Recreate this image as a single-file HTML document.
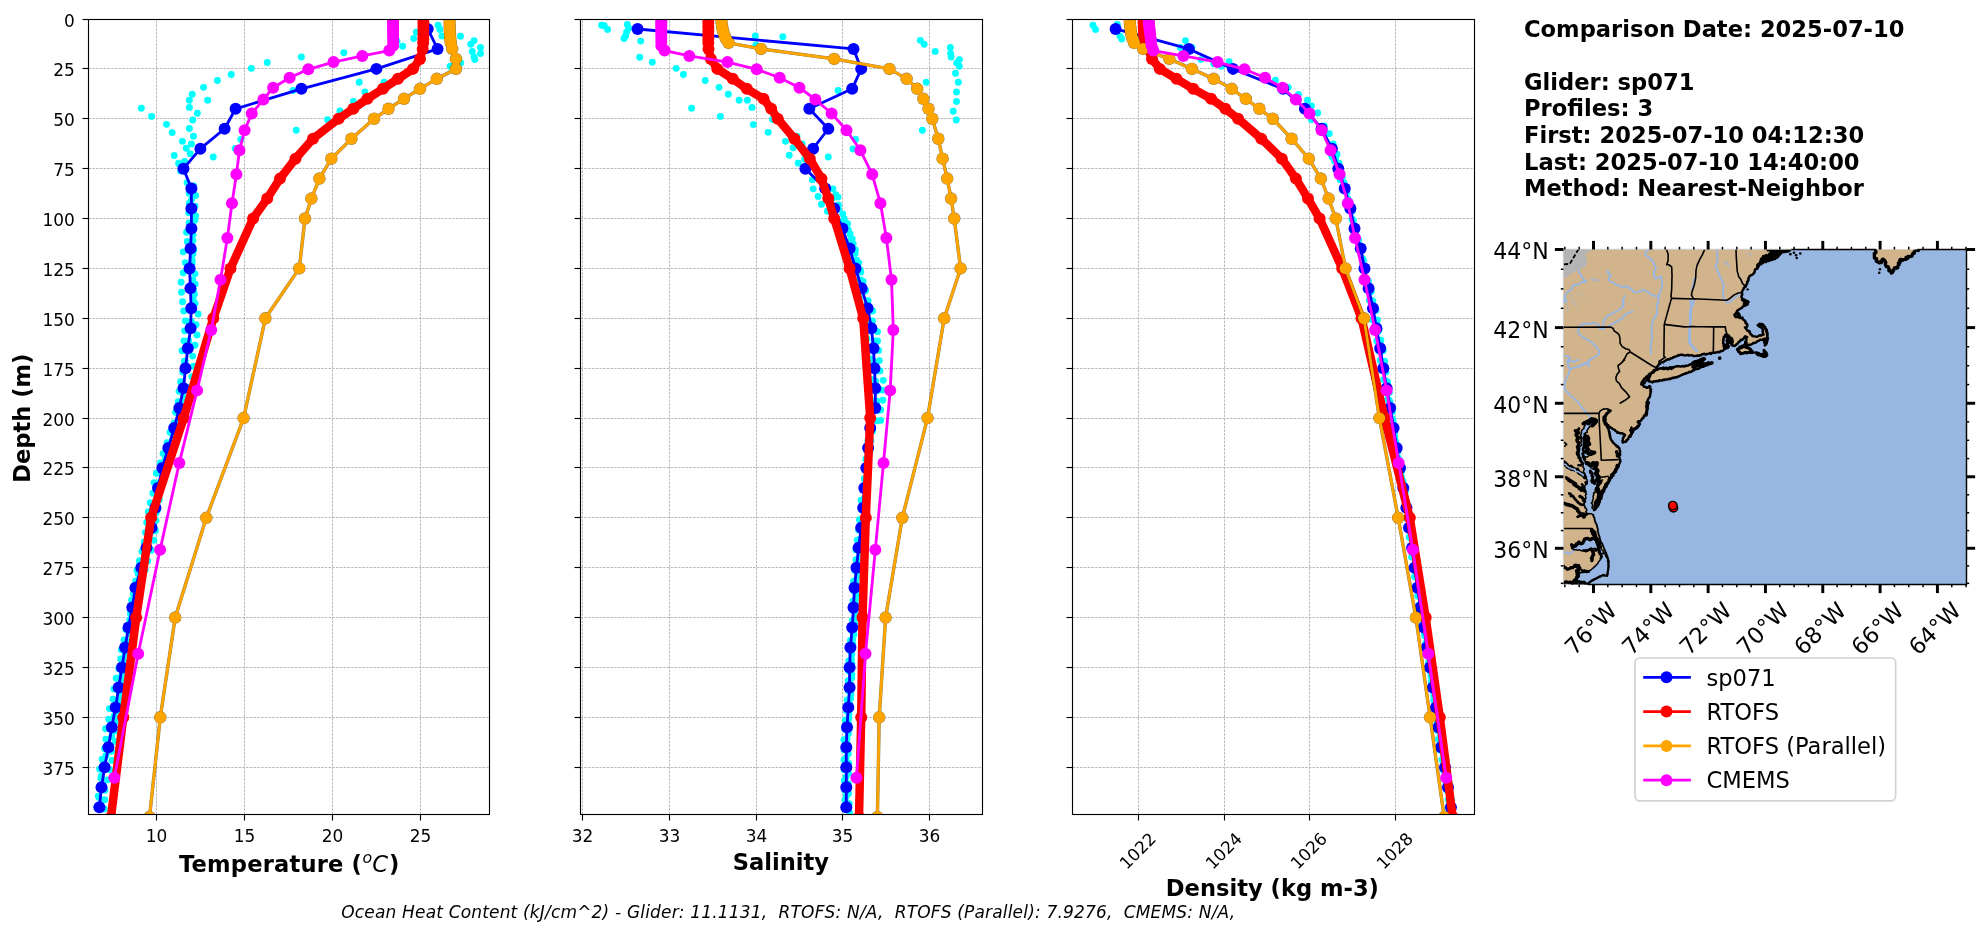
<!DOCTYPE html>
<html lang="en"><head><meta charset="utf-8"><title>Glider / model profile comparison</title>
<style>html,body{margin:0;padding:0;background:#fff}body{width:1980px;height:934px;overflow:hidden}svg{display:block;will-change:transform}text{font-family:'DejaVu Sans','Liberation Sans',sans-serif}</style></head><body>
<svg width="1980" height="934" viewBox="0 0 1980 934">
<rect width="1980" height="934" fill="#fff"/>
<g id="panel0">
<g stroke="#a9a9a9" stroke-width="0.8" stroke-dasharray="2.62 1.13" fill="none">
<line x1="156.5" y1="814.5" x2="156.5" y2="19.5"/>
<line x1="244.5" y1="814.5" x2="244.5" y2="19.5"/>
<line x1="332.5" y1="814.5" x2="332.5" y2="19.5"/>
<line x1="420.5" y1="814.5" x2="420.5" y2="19.5"/>
<line x1="88.5" y1="19.5" x2="489.5" y2="19.5"/>
<line x1="88.5" y1="68.5" x2="489.5" y2="68.5"/>
<line x1="88.5" y1="118.5" x2="489.5" y2="118.5"/>
<line x1="88.5" y1="168.5" x2="489.5" y2="168.5"/>
<line x1="88.5" y1="218.5" x2="489.5" y2="218.5"/>
<line x1="88.5" y1="268.5" x2="489.5" y2="268.5"/>
<line x1="88.5" y1="318.5" x2="489.5" y2="318.5"/>
<line x1="88.5" y1="368.5" x2="489.5" y2="368.5"/>
<line x1="88.5" y1="418.5" x2="489.5" y2="418.5"/>
<line x1="88.5" y1="467.5" x2="489.5" y2="467.5"/>
<line x1="88.5" y1="517.5" x2="489.5" y2="517.5"/>
<line x1="88.5" y1="567.5" x2="489.5" y2="567.5"/>
<line x1="88.5" y1="617.5" x2="489.5" y2="617.5"/>
<line x1="88.5" y1="667.5" x2="489.5" y2="667.5"/>
<line x1="88.5" y1="717.5" x2="489.5" y2="717.5"/>
<line x1="88.5" y1="767.5" x2="489.5" y2="767.5"/>
</g>
<clipPath id="clip0"><rect x="88.5" y="19.5" width="401" height="795"/></clipPath>
<g clip-path="url(#clip0)">
<g fill="#00ffff">
<circle cx="438.11" cy="25.18" r="3.45"/>
<circle cx="439.91" cy="29.55" r="3.45"/>
<circle cx="441.97" cy="35.97" r="3.45"/>
<circle cx="460.47" cy="36.23" r="3.45"/>
<circle cx="474.09" cy="40.6" r="3.45"/>
<circle cx="470.75" cy="44.2" r="3.45"/>
<circle cx="480.51" cy="47.54" r="3.45"/>
<circle cx="472.29" cy="51.39" r="3.45"/>
<circle cx="480.51" cy="53.45" r="3.45"/>
<circle cx="474.09" cy="57.04" r="3.45"/>
<circle cx="474.86" cy="59.61" r="3.45"/>
<circle cx="460.72" cy="62.95" r="3.45"/>
<circle cx="450.19" cy="66.29" r="3.45"/>
<circle cx="416.27" cy="32.12" r="3.45"/>
<circle cx="413.7" cy="38.54" r="3.45"/>
<circle cx="397" cy="41.11" r="3.45"/>
<circle cx="402.65" cy="46.25" r="3.45"/>
<circle cx="343.81" cy="52.68" r="3.45"/>
<circle cx="301.41" cy="57.04" r="3.45"/>
<circle cx="267.24" cy="62.44" r="3.45"/>
<circle cx="251.3" cy="68.35" r="3.45"/>
<circle cx="231.26" cy="74.52" r="3.45"/>
<circle cx="217.39" cy="80.43" r="3.45"/>
<circle cx="203.51" cy="87.37" r="3.45"/>
<circle cx="192.2" cy="94.3" r="3.45"/>
<circle cx="189.38" cy="100.21" r="3.45"/>
<circle cx="189.38" cy="107.41" r="3.45"/>
<circle cx="197.34" cy="113.32" r="3.45"/>
<circle cx="192.72" cy="120" r="3.45"/>
<circle cx="189.38" cy="128.48" r="3.45"/>
<circle cx="193.49" cy="136.19" r="3.45"/>
<circle cx="191.43" cy="143.9" r="3.45"/>
<circle cx="186.29" cy="148.26" r="3.45"/>
<circle cx="190.15" cy="153.66" r="3.45"/>
<circle cx="184.5" cy="161.37" r="3.45"/>
<circle cx="179.87" cy="164.45" r="3.45"/>
<circle cx="207.62" cy="100.21" r="3.45"/>
<circle cx="141.33" cy="108.18" r="3.45"/>
<circle cx="151.6" cy="116.4" r="3.45"/>
<circle cx="166.51" cy="124.37" r="3.45"/>
<circle cx="172.16" cy="132.59" r="3.45"/>
<circle cx="182.44" cy="141.33" r="3.45"/>
<circle cx="174.22" cy="155.46" r="3.45"/>
<circle cx="178.59" cy="163.17" r="3.45"/>
<circle cx="180.64" cy="170.88" r="3.45"/>
<circle cx="359.23" cy="82.23" r="3.45"/>
<circle cx="384.15" cy="82.23" r="3.45"/>
<circle cx="364.88" cy="91.99" r="3.45"/>
<circle cx="353.32" cy="101.5" r="3.45"/>
<circle cx="339.95" cy="111.01" r="3.45"/>
<circle cx="327.62" cy="119.74" r="3.45"/>
<circle cx="296.27" cy="130.28" r="3.45"/>
<circle cx="292.93" cy="90.45" r="3.45"/>
<circle cx="240.77" cy="139.53" r="3.45"/>
<circle cx="235.12" cy="148.52" r="3.45"/>
<circle cx="213.27" cy="157" r="3.45"/>
<circle cx="187.1" cy="182.61" r="3.45"/>
<circle cx="189.16" cy="193.27" r="3.45"/>
<circle cx="189.38" cy="203.26" r="3.45"/>
<circle cx="188.71" cy="212.73" r="3.45"/>
<circle cx="189.12" cy="222.91" r="3.45"/>
<circle cx="186.53" cy="232.24" r="3.45"/>
<circle cx="187.25" cy="241.57" r="3.45"/>
<circle cx="183.23" cy="251.85" r="3.45"/>
<circle cx="185.25" cy="262.6" r="3.45"/>
<circle cx="183.28" cy="272.82" r="3.45"/>
<circle cx="181.12" cy="282.25" r="3.45"/>
<circle cx="181.48" cy="292.27" r="3.45"/>
<circle cx="182.55" cy="301.75" r="3.45"/>
<circle cx="183.76" cy="310.98" r="3.45"/>
<circle cx="185.27" cy="320.86" r="3.45"/>
<circle cx="184.57" cy="330.87" r="3.45"/>
<circle cx="183.99" cy="340.84" r="3.45"/>
<circle cx="182.06" cy="350.75" r="3.45"/>
<circle cx="184.23" cy="361.52" r="3.45"/>
<circle cx="182.76" cy="372.04" r="3.45"/>
<circle cx="180.59" cy="381.72" r="3.45"/>
<circle cx="179.04" cy="391.36" r="3.45"/>
<circle cx="178.17" cy="401.77" r="3.45"/>
<circle cx="175.6" cy="412.3" r="3.45"/>
<circle cx="174.14" cy="423" r="3.45"/>
<circle cx="170.08" cy="432.18" r="3.45"/>
<circle cx="167.08" cy="442.81" r="3.45"/>
<circle cx="163.14" cy="453.56" r="3.45"/>
<circle cx="160.46" cy="462.85" r="3.45"/>
<circle cx="156.34" cy="473.27" r="3.45"/>
<circle cx="154.03" cy="482.59" r="3.45"/>
<circle cx="152.89" cy="493.31" r="3.45"/>
<circle cx="150.22" cy="502.67" r="3.45"/>
<circle cx="148.26" cy="512.01" r="3.45"/>
<circle cx="146.71" cy="522.47" r="3.45"/>
<circle cx="145.45" cy="532.54" r="3.45"/>
<circle cx="144.14" cy="542.02" r="3.45"/>
<circle cx="141.97" cy="551.41" r="3.45"/>
<circle cx="139.48" cy="560.77" r="3.45"/>
<circle cx="137.05" cy="570.29" r="3.45"/>
<circle cx="135.77" cy="581.02" r="3.45"/>
<circle cx="133.95" cy="590.68" r="3.45"/>
<circle cx="131.53" cy="600.2" r="3.45"/>
<circle cx="130.58" cy="610.74" r="3.45"/>
<circle cx="129.67" cy="620.08" r="3.45"/>
<circle cx="125.91" cy="629.6" r="3.45"/>
<circle cx="124" cy="640.01" r="3.45"/>
<circle cx="121.33" cy="649.66" r="3.45"/>
<circle cx="120.7" cy="658.98" r="3.45"/>
<circle cx="118.72" cy="668.55" r="3.45"/>
<circle cx="116.19" cy="678.32" r="3.45"/>
<circle cx="113.98" cy="689.03" r="3.45"/>
<circle cx="112.97" cy="699.12" r="3.45"/>
<circle cx="109.39" cy="708.59" r="3.45"/>
<circle cx="108.9" cy="719.22" r="3.45"/>
<circle cx="105.56" cy="728.8" r="3.45"/>
<circle cx="105.89" cy="739.16" r="3.45"/>
<circle cx="104.58" cy="748.65" r="3.45"/>
<circle cx="102.17" cy="759.24" r="3.45"/>
<circle cx="99.62" cy="769.09" r="3.45"/>
<circle cx="100.86" cy="778.33" r="3.45"/>
<circle cx="99.28" cy="787.89" r="3.45"/>
<circle cx="99.03" cy="797.48" r="3.45"/>
<circle cx="97.06" cy="807.61" r="3.45"/>
<circle cx="193.56" cy="186.01" r="3.45"/>
<circle cx="195.61" cy="195.55" r="3.45"/>
<circle cx="195.05" cy="206.09" r="3.45"/>
<circle cx="195.59" cy="215.71" r="3.45"/>
<circle cx="191.96" cy="225.22" r="3.45"/>
<circle cx="193.07" cy="234.83" r="3.45"/>
<circle cx="191.75" cy="244.1" r="3.45"/>
<circle cx="192.96" cy="253.87" r="3.45"/>
<circle cx="192.15" cy="263.26" r="3.45"/>
<circle cx="194.99" cy="273.86" r="3.45"/>
<circle cx="195.11" cy="284.08" r="3.45"/>
<circle cx="194.33" cy="294.2" r="3.45"/>
<circle cx="194.98" cy="303.43" r="3.45"/>
<circle cx="198.2" cy="314.06" r="3.45"/>
<circle cx="196.01" cy="324.78" r="3.45"/>
<circle cx="196.98" cy="334.97" r="3.45"/>
<circle cx="195.06" cy="345.31" r="3.45"/>
<circle cx="192.72" cy="356.09" r="3.45"/>
<circle cx="193.58" cy="366.14" r="3.45"/>
<circle cx="191.9" cy="376.75" r="3.45"/>
<circle cx="190.35" cy="387.06" r="3.45"/>
<circle cx="185.81" cy="397.69" r="3.45"/>
<circle cx="184.81" cy="407.97" r="3.45"/>
<circle cx="179.62" cy="418.54" r="3.45"/>
<circle cx="176.72" cy="428.98" r="3.45"/>
<circle cx="172.85" cy="439.07" r="3.45"/>
<circle cx="169.73" cy="448.86" r="3.45"/>
<circle cx="165.5" cy="459.01" r="3.45"/>
<circle cx="165.08" cy="469.21" r="3.45"/>
<circle cx="162.45" cy="479.79" r="3.45"/>
<circle cx="160.91" cy="489.59" r="3.45"/>
<circle cx="159.38" cy="499.69" r="3.45"/>
<circle cx="157.55" cy="510.21" r="3.45"/>
<circle cx="155.99" cy="520.59" r="3.45"/>
<circle cx="155.47" cy="530.72" r="3.45"/>
<circle cx="153.9" cy="540.27" r="3.45"/>
<circle cx="151.34" cy="550.24" r="3.45"/>
<circle cx="147.71" cy="560.89" r="3.45"/>
<circle cx="145.23" cy="570.09" r="3.45"/>
<circle cx="141.67" cy="580.35" r="3.45"/>
<circle cx="140.58" cy="589.8" r="3.45"/>
<circle cx="137.32" cy="600.03" r="3.45"/>
<circle cx="134.7" cy="610.63" r="3.45"/>
<circle cx="131.86" cy="620.87" r="3.45"/>
<circle cx="131.08" cy="630.74" r="3.45"/>
<circle cx="129.01" cy="641.37" r="3.45"/>
<circle cx="126.36" cy="651.17" r="3.45"/>
<circle cx="123.59" cy="660.85" r="3.45"/>
<circle cx="123.8" cy="670.82" r="3.45"/>
<circle cx="121.93" cy="681.35" r="3.45"/>
<circle cx="119.47" cy="692.05" r="3.45"/>
<circle cx="118.86" cy="701.5" r="3.45"/>
<circle cx="117.14" cy="711.11" r="3.45"/>
<circle cx="116.85" cy="720.95" r="3.45"/>
<circle cx="114.78" cy="730.92" r="3.45"/>
<circle cx="115.17" cy="741.44" r="3.45"/>
<circle cx="111.49" cy="751.34" r="3.45"/>
<circle cx="111.97" cy="760.57" r="3.45"/>
<circle cx="109.97" cy="769.81" r="3.45"/>
<circle cx="107.34" cy="779.9" r="3.45"/>
<circle cx="104.92" cy="790.34" r="3.45"/>
<circle cx="104.69" cy="799.74" r="3.45"/>
<circle cx="104.43" cy="808.96" r="3.45"/>
<circle cx="189.38" cy="189.4" r="3.45"/>
<circle cx="191.61" cy="199.58" r="3.45"/>
<circle cx="193.16" cy="209.77" r="3.45"/>
<circle cx="195.02" cy="220.23" r="3.45"/>
<circle cx="192.84" cy="230.5" r="3.45"/>
<circle cx="192.81" cy="240.44" r="3.45"/>
<circle cx="193.7" cy="249.64" r="3.45"/>
<circle cx="192.14" cy="259.95" r="3.45"/>
<circle cx="192.16" cy="269.57" r="3.45"/>
<circle cx="192.76" cy="279.86" r="3.45"/>
<circle cx="193.4" cy="290.02" r="3.45"/>
<circle cx="193.21" cy="299.82" r="3.45"/>
<circle cx="190.11" cy="310.45" r="3.45"/>
<circle cx="191.25" cy="321.12" r="3.45"/>
<circle cx="189.1" cy="330.5" r="3.45"/>
<circle cx="188.75" cy="340.68" r="3.45"/>
<circle cx="185.84" cy="350.46" r="3.45"/>
<circle cx="185.29" cy="361.04" r="3.45"/>
<circle cx="183.02" cy="371.73" r="3.45"/>
<circle cx="181.41" cy="381.94" r="3.45"/>
<circle cx="182.68" cy="392.28" r="3.45"/>
<circle cx="180.87" cy="402.48" r="3.45"/>
<circle cx="180.08" cy="412" r="3.45"/>
<circle cx="178.46" cy="422.74" r="3.45"/>
<circle cx="174.89" cy="432.78" r="3.45"/>
<circle cx="172.75" cy="442.47" r="3.45"/>
<circle cx="168.55" cy="453.01" r="3.45"/>
<circle cx="166.19" cy="462.32" r="3.45"/>
<circle cx="164.4" cy="472.38" r="3.45"/>
<circle cx="160.19" cy="482.33" r="3.45"/>
<circle cx="158.11" cy="492.8" r="3.45"/>
<circle cx="156.58" cy="503.26" r="3.45"/>
<circle cx="156.06" cy="512.97" r="3.45"/>
<circle cx="152.14" cy="522.37" r="3.45"/>
<circle cx="150.83" cy="532.38" r="3.45"/>
<circle cx="147.54" cy="542.9" r="3.45"/>
<circle cx="143.86" cy="553.58" r="3.45"/>
<circle cx="139.78" cy="564.28" r="3.45"/>
<circle cx="138.09" cy="573.81" r="3.45"/>
<circle cx="135.81" cy="583.45" r="3.45"/>
<circle cx="133.33" cy="593.65" r="3.45"/>
<circle cx="132.17" cy="604.17" r="3.45"/>
<circle cx="130.45" cy="613.85" r="3.45"/>
<circle cx="130.31" cy="624.38" r="3.45"/>
<circle cx="129.03" cy="633.89" r="3.45"/>
<circle cx="126.95" cy="644.61" r="3.45"/>
<circle cx="124.97" cy="654.71" r="3.45"/>
<circle cx="124.51" cy="664.74" r="3.45"/>
<circle cx="121.86" cy="674.88" r="3.45"/>
<circle cx="121.34" cy="685.61" r="3.45"/>
<circle cx="120.37" cy="695.43" r="3.45"/>
<circle cx="117.73" cy="705.51" r="3.45"/>
<circle cx="114.34" cy="715.79" r="3.45"/>
<circle cx="112.79" cy="725.82" r="3.45"/>
<circle cx="111.63" cy="736.53" r="3.45"/>
<circle cx="108.33" cy="746.14" r="3.45"/>
<circle cx="106.01" cy="755.52" r="3.45"/>
<circle cx="104.77" cy="766" r="3.45"/>
<circle cx="101.44" cy="775.94" r="3.45"/>
<circle cx="100.61" cy="785.42" r="3.45"/>
<circle cx="98.21" cy="796.08" r="3.45"/>
<circle cx="97.06" cy="806.5" r="3.45"/>
</g>
<polyline points="427.7,28.98 437.6,48.93 376.4,68.88 301.4,88.84 235.6,108.79 224.6,128.74 200.4,148.69 183.5,168.65 191.4,188.6 191.4,208.55 191.4,228.51 190.6,248.46 189.6,268.41 190.4,288.37 191.2,308.32 190.6,328.27 187.8,348.22 185.5,368.18 183.5,388.13 179.3,408.08 174.2,428.04 168.3,447.99 162.4,467.94 158,487.9 155.4,507.85 151.6,527.8 146.5,547.75 141.3,567.71 135.4,587.66 132.3,607.61 128.5,627.57 125.1,647.52 122,667.47 118.7,687.43 115.6,707.38 111.8,727.33 108.4,747.28 104.6,767.24 101.5,787.19 99.4,807.14" fill="none" stroke="#0000ff" stroke-width="2.83" stroke-linejoin="round"/>
<g fill="#0000ff">
<circle cx="427.7" cy="28.98" r="6"/>
<circle cx="437.6" cy="48.93" r="6"/>
<circle cx="376.4" cy="68.88" r="6"/>
<circle cx="301.4" cy="88.84" r="6"/>
<circle cx="235.6" cy="108.79" r="6"/>
<circle cx="224.6" cy="128.74" r="6"/>
<circle cx="200.4" cy="148.69" r="6"/>
<circle cx="183.5" cy="168.65" r="6"/>
<circle cx="191.4" cy="188.6" r="6"/>
<circle cx="191.4" cy="208.55" r="6"/>
<circle cx="191.4" cy="228.51" r="6"/>
<circle cx="190.6" cy="248.46" r="6"/>
<circle cx="189.6" cy="268.41" r="6"/>
<circle cx="190.4" cy="288.37" r="6"/>
<circle cx="191.2" cy="308.32" r="6"/>
<circle cx="190.6" cy="328.27" r="6"/>
<circle cx="187.8" cy="348.22" r="6"/>
<circle cx="185.5" cy="368.18" r="6"/>
<circle cx="183.5" cy="388.13" r="6"/>
<circle cx="179.3" cy="408.08" r="6"/>
<circle cx="174.2" cy="428.04" r="6"/>
<circle cx="168.3" cy="447.99" r="6"/>
<circle cx="162.4" cy="467.94" r="6"/>
<circle cx="158" cy="487.9" r="6"/>
<circle cx="155.4" cy="507.85" r="6"/>
<circle cx="151.6" cy="527.8" r="6"/>
<circle cx="146.5" cy="547.75" r="6"/>
<circle cx="141.3" cy="567.71" r="6"/>
<circle cx="135.4" cy="587.66" r="6"/>
<circle cx="132.3" cy="607.61" r="6"/>
<circle cx="128.5" cy="627.57" r="6"/>
<circle cx="125.1" cy="647.52" r="6"/>
<circle cx="122" cy="667.47" r="6"/>
<circle cx="118.7" cy="687.43" r="6"/>
<circle cx="115.6" cy="707.38" r="6"/>
<circle cx="111.8" cy="727.33" r="6"/>
<circle cx="108.4" cy="747.28" r="6"/>
<circle cx="104.6" cy="767.24" r="6"/>
<circle cx="101.5" cy="787.19" r="6"/>
<circle cx="99.4" cy="807.14" r="6"/>
</g>
<polyline points="423.4,19 423.4,22.99 423.4,26.98 423.4,30.97 423.4,34.96 423.3,38.95 423.2,42.94 422.7,48.93 420,58.91 413,68.88 398,78.86 383,88.84 367.4,98.81 353.3,108.79 338.6,118.77 313,138.72 295.5,158.67 280,178.62 267.2,198.58 253.1,218.53 230.5,268.41 213.3,318.3 183.7,418.06 151.1,517.83 136.2,617.59 123.3,717.36 111,817.12" fill="none" stroke="#ff0000" stroke-width="8.48" stroke-linejoin="round"/>
<g fill="#ff0000">
<circle cx="423.4" cy="19" r="6"/>
<circle cx="423.4" cy="22.99" r="6"/>
<circle cx="423.4" cy="26.98" r="6"/>
<circle cx="423.4" cy="30.97" r="6"/>
<circle cx="423.4" cy="34.96" r="6"/>
<circle cx="423.3" cy="38.95" r="6"/>
<circle cx="423.2" cy="42.94" r="6"/>
<circle cx="422.7" cy="48.93" r="6"/>
<circle cx="420" cy="58.91" r="6"/>
<circle cx="413" cy="68.88" r="6"/>
<circle cx="398" cy="78.86" r="6"/>
<circle cx="383" cy="88.84" r="6"/>
<circle cx="367.4" cy="98.81" r="6"/>
<circle cx="353.3" cy="108.79" r="6"/>
<circle cx="338.6" cy="118.77" r="6"/>
<circle cx="313" cy="138.72" r="6"/>
<circle cx="295.5" cy="158.67" r="6"/>
<circle cx="280" cy="178.62" r="6"/>
<circle cx="267.2" cy="198.58" r="6"/>
<circle cx="253.1" cy="218.53" r="6"/>
<circle cx="230.5" cy="268.41" r="6"/>
<circle cx="213.3" cy="318.3" r="6"/>
<circle cx="183.7" cy="418.06" r="6"/>
<circle cx="151.1" cy="517.83" r="6"/>
<circle cx="136.2" cy="617.59" r="6"/>
<circle cx="123.3" cy="717.36" r="6"/>
<circle cx="111" cy="817.12" r="6"/>
</g>
<polyline points="449.6,19 449.6,22.99 449.7,26.98 449.8,30.97 450,34.96 450.3,38.95 450.8,42.94 452.2,48.93 456,58.91 456,68.88 436.8,78.86 420,88.84 404,98.81 388.5,108.79 374.1,118.77 351.5,138.72 331.4,158.67 319.4,178.62 311.4,198.58 305,218.53 299.3,268.41 265.4,318.3 243.6,418.06 206.3,517.83 175.2,617.59 160.3,717.36 149.5,817.12" fill="none" stroke="#4a3600" stroke-width="3.42" stroke-linejoin="round" stroke-opacity="0.65"/>
<g fill="#4a3600" fill-opacity="0.65">
<circle cx="449.6" cy="19" r="6.25"/>
<circle cx="449.6" cy="22.99" r="6.25"/>
<circle cx="449.7" cy="26.98" r="6.25"/>
<circle cx="449.8" cy="30.97" r="6.25"/>
<circle cx="450" cy="34.96" r="6.25"/>
<circle cx="450.3" cy="38.95" r="6.25"/>
<circle cx="450.8" cy="42.94" r="6.25"/>
<circle cx="452.2" cy="48.93" r="6.25"/>
<circle cx="456" cy="58.91" r="6.25"/>
<circle cx="456" cy="68.88" r="6.25"/>
<circle cx="436.8" cy="78.86" r="6.25"/>
<circle cx="420" cy="88.84" r="6.25"/>
<circle cx="404" cy="98.81" r="6.25"/>
<circle cx="388.5" cy="108.79" r="6.25"/>
<circle cx="374.1" cy="118.77" r="6.25"/>
<circle cx="351.5" cy="138.72" r="6.25"/>
<circle cx="331.4" cy="158.67" r="6.25"/>
<circle cx="319.4" cy="178.62" r="6.25"/>
<circle cx="311.4" cy="198.58" r="6.25"/>
<circle cx="305" cy="218.53" r="6.25"/>
<circle cx="299.3" cy="268.41" r="6.25"/>
<circle cx="265.4" cy="318.3" r="6.25"/>
<circle cx="243.6" cy="418.06" r="6.25"/>
<circle cx="206.3" cy="517.83" r="6.25"/>
<circle cx="175.2" cy="617.59" r="6.25"/>
<circle cx="160.3" cy="717.36" r="6.25"/>
<circle cx="149.5" cy="817.12" r="6.25"/>
</g>
<polyline points="449.6,19 449.6,22.99 449.7,26.98 449.8,30.97 450,34.96 450.3,38.95 450.8,42.94 452.2,48.93 456,58.91 456,68.88 436.8,78.86 420,88.84 404,98.81 388.5,108.79 374.1,118.77 351.5,138.72 331.4,158.67 319.4,178.62 311.4,198.58 305,218.53 299.3,268.41 265.4,318.3 243.6,418.06 206.3,517.83 175.2,617.59 160.3,717.36 149.5,817.12" fill="none" stroke="#ffa500" stroke-width="2.73" stroke-linejoin="round"/>
<g fill="#ffa500">
<circle cx="449.6" cy="19" r="5.9"/>
<circle cx="449.6" cy="22.99" r="5.9"/>
<circle cx="449.7" cy="26.98" r="5.9"/>
<circle cx="449.8" cy="30.97" r="5.9"/>
<circle cx="450" cy="34.96" r="5.9"/>
<circle cx="450.3" cy="38.95" r="5.9"/>
<circle cx="450.8" cy="42.94" r="5.9"/>
<circle cx="452.2" cy="48.93" r="5.9"/>
<circle cx="456" cy="58.91" r="5.9"/>
<circle cx="456" cy="68.88" r="5.9"/>
<circle cx="436.8" cy="78.86" r="5.9"/>
<circle cx="420" cy="88.84" r="5.9"/>
<circle cx="404" cy="98.81" r="5.9"/>
<circle cx="388.5" cy="108.79" r="5.9"/>
<circle cx="374.1" cy="118.77" r="5.9"/>
<circle cx="351.5" cy="138.72" r="5.9"/>
<circle cx="331.4" cy="158.67" r="5.9"/>
<circle cx="319.4" cy="178.62" r="5.9"/>
<circle cx="311.4" cy="198.58" r="5.9"/>
<circle cx="305" cy="218.53" r="5.9"/>
<circle cx="299.3" cy="268.41" r="5.9"/>
<circle cx="265.4" cy="318.3" r="5.9"/>
<circle cx="243.6" cy="418.06" r="5.9"/>
<circle cx="206.3" cy="517.83" r="5.9"/>
<circle cx="175.2" cy="617.59" r="5.9"/>
<circle cx="160.3" cy="717.36" r="5.9"/>
<circle cx="149.5" cy="817.12" r="5.9"/>
</g>
<polyline points="393.1,19.99 393.1,22.07 393.1,24.28 393.1,26.62 393.1,29.13 393.1,31.85 393.1,34.82 393.1,38.1 393.1,41.76 393.1,45.87 389.3,50.55 362.3,55.91 333.5,62.1 308.3,69.3 289.6,77.75 273.1,87.71 263.4,99.5 251.8,113.53 244.6,130.27 239.5,150.3 236.4,174.34 232,203.22 227.4,237.94 220.5,279.72 211.2,329.97 197.1,390.38 179.3,462.9 160.1,549.83 138.2,653.76 114.3,777.64" fill="none" stroke="#ff00ff" stroke-width="2.83" stroke-linejoin="round"/>
<g fill="#ff00ff">
<circle cx="393.1" cy="19.99" r="6"/>
<circle cx="393.1" cy="22.07" r="6"/>
<circle cx="393.1" cy="24.28" r="6"/>
<circle cx="393.1" cy="26.62" r="6"/>
<circle cx="393.1" cy="29.13" r="6"/>
<circle cx="393.1" cy="31.85" r="6"/>
<circle cx="393.1" cy="34.82" r="6"/>
<circle cx="393.1" cy="38.1" r="6"/>
<circle cx="393.1" cy="41.76" r="6"/>
<circle cx="393.1" cy="45.87" r="6"/>
<circle cx="389.3" cy="50.55" r="6"/>
<circle cx="362.3" cy="55.91" r="6"/>
<circle cx="333.5" cy="62.1" r="6"/>
<circle cx="308.3" cy="69.3" r="6"/>
<circle cx="289.6" cy="77.75" r="6"/>
<circle cx="273.1" cy="87.71" r="6"/>
<circle cx="263.4" cy="99.5" r="6"/>
<circle cx="251.8" cy="113.53" r="6"/>
<circle cx="244.6" cy="130.27" r="6"/>
<circle cx="239.5" cy="150.3" r="6"/>
<circle cx="236.4" cy="174.34" r="6"/>
<circle cx="232" cy="203.22" r="6"/>
<circle cx="227.4" cy="237.94" r="6"/>
<circle cx="220.5" cy="279.72" r="6"/>
<circle cx="211.2" cy="329.97" r="6"/>
<circle cx="197.1" cy="390.38" r="6"/>
<circle cx="179.3" cy="462.9" r="6"/>
<circle cx="160.1" cy="549.83" r="6"/>
<circle cx="138.2" cy="653.76" r="6"/>
<circle cx="114.3" cy="777.64" r="6"/>
</g>
</g>
<g stroke="#000" stroke-width="1.13" fill="none">
<line x1="156.5" y1="814.5" x2="156.5" y2="820.5"/>
<line x1="244.5" y1="814.5" x2="244.5" y2="820.5"/>
<line x1="332.5" y1="814.5" x2="332.5" y2="820.5"/>
<line x1="420.5" y1="814.5" x2="420.5" y2="820.5"/>
<line x1="88.5" y1="19.5" x2="82.5" y2="19.5"/>
<line x1="88.5" y1="68.5" x2="82.5" y2="68.5"/>
<line x1="88.5" y1="118.5" x2="82.5" y2="118.5"/>
<line x1="88.5" y1="168.5" x2="82.5" y2="168.5"/>
<line x1="88.5" y1="218.5" x2="82.5" y2="218.5"/>
<line x1="88.5" y1="268.5" x2="82.5" y2="268.5"/>
<line x1="88.5" y1="318.5" x2="82.5" y2="318.5"/>
<line x1="88.5" y1="368.5" x2="82.5" y2="368.5"/>
<line x1="88.5" y1="418.5" x2="82.5" y2="418.5"/>
<line x1="88.5" y1="467.5" x2="82.5" y2="467.5"/>
<line x1="88.5" y1="517.5" x2="82.5" y2="517.5"/>
<line x1="88.5" y1="567.5" x2="82.5" y2="567.5"/>
<line x1="88.5" y1="617.5" x2="82.5" y2="617.5"/>
<line x1="88.5" y1="667.5" x2="82.5" y2="667.5"/>
<line x1="88.5" y1="717.5" x2="82.5" y2="717.5"/>
<line x1="88.5" y1="767.5" x2="82.5" y2="767.5"/>
<rect x="88.5" y="19.5" width="401" height="795"/>
</g>
<g font-size="16.95" fill="#000">
<text x="156.5" y="841.6" text-anchor="middle">10</text>
<text x="244.5" y="841.6" text-anchor="middle">15</text>
<text x="332.5" y="841.6" text-anchor="middle">20</text>
<text x="420.5" y="841.6" text-anchor="middle">25</text>
<text x="74.9" y="27" text-anchor="end">0</text>
<text x="74.9" y="76" text-anchor="end">25</text>
<text x="74.9" y="126" text-anchor="end">50</text>
<text x="74.9" y="176" text-anchor="end">75</text>
<text x="74.9" y="226" text-anchor="end">100</text>
<text x="74.9" y="276" text-anchor="end">125</text>
<text x="74.9" y="326" text-anchor="end">150</text>
<text x="74.9" y="376" text-anchor="end">175</text>
<text x="74.9" y="426" text-anchor="end">200</text>
<text x="74.9" y="475" text-anchor="end">225</text>
<text x="74.9" y="525" text-anchor="end">250</text>
<text x="74.9" y="575" text-anchor="end">275</text>
<text x="74.9" y="625" text-anchor="end">300</text>
<text x="74.9" y="675" text-anchor="end">325</text>
<text x="74.9" y="725" text-anchor="end">350</text>
<text x="74.9" y="775" text-anchor="end">375</text>
</g>
</g>
<g id="panel1">
<g stroke="#a9a9a9" stroke-width="0.8" stroke-dasharray="2.62 1.13" fill="none">
<line x1="582.5" y1="814.5" x2="582.5" y2="19.5"/>
<line x1="669.5" y1="814.5" x2="669.5" y2="19.5"/>
<line x1="756.5" y1="814.5" x2="756.5" y2="19.5"/>
<line x1="842.5" y1="814.5" x2="842.5" y2="19.5"/>
<line x1="929.5" y1="814.5" x2="929.5" y2="19.5"/>
<line x1="580.5" y1="19.5" x2="982.5" y2="19.5"/>
<line x1="580.5" y1="68.5" x2="982.5" y2="68.5"/>
<line x1="580.5" y1="118.5" x2="982.5" y2="118.5"/>
<line x1="580.5" y1="168.5" x2="982.5" y2="168.5"/>
<line x1="580.5" y1="218.5" x2="982.5" y2="218.5"/>
<line x1="580.5" y1="268.5" x2="982.5" y2="268.5"/>
<line x1="580.5" y1="318.5" x2="982.5" y2="318.5"/>
<line x1="580.5" y1="368.5" x2="982.5" y2="368.5"/>
<line x1="580.5" y1="418.5" x2="982.5" y2="418.5"/>
<line x1="580.5" y1="467.5" x2="982.5" y2="467.5"/>
<line x1="580.5" y1="517.5" x2="982.5" y2="517.5"/>
<line x1="580.5" y1="567.5" x2="982.5" y2="567.5"/>
<line x1="580.5" y1="617.5" x2="982.5" y2="617.5"/>
<line x1="580.5" y1="667.5" x2="982.5" y2="667.5"/>
<line x1="580.5" y1="717.5" x2="982.5" y2="717.5"/>
<line x1="580.5" y1="767.5" x2="982.5" y2="767.5"/>
</g>
<clipPath id="clip1"><rect x="580.5" y="19.5" width="402" height="795"/></clipPath>
<g clip-path="url(#clip1)">
<g fill="#00ffff">
<circle cx="601.67" cy="25.18" r="3.45"/>
<circle cx="604.24" cy="25.7" r="3.45"/>
<circle cx="607.58" cy="29.55" r="3.45"/>
<circle cx="627.37" cy="24.41" r="3.45"/>
<circle cx="628.65" cy="28.27" r="3.45"/>
<circle cx="626.59" cy="32.12" r="3.45"/>
<circle cx="625.57" cy="35.97" r="3.45"/>
<circle cx="624.02" cy="38.54" r="3.45"/>
<circle cx="640.73" cy="41.11" r="3.45"/>
<circle cx="639.7" cy="57.3" r="3.45"/>
<circle cx="652.29" cy="62.18" r="3.45"/>
<circle cx="676.19" cy="68.35" r="3.45"/>
<circle cx="683.38" cy="74.52" r="3.45"/>
<circle cx="705.22" cy="80.43" r="3.45"/>
<circle cx="719.1" cy="87.37" r="3.45"/>
<circle cx="728.35" cy="94.3" r="3.45"/>
<circle cx="739.14" cy="100.21" r="3.45"/>
<circle cx="747.36" cy="100.21" r="3.45"/>
<circle cx="751.99" cy="107.41" r="3.45"/>
<circle cx="691.6" cy="108.18" r="3.45"/>
<circle cx="720.38" cy="116.4" r="3.45"/>
<circle cx="753.27" cy="124.62" r="3.45"/>
<circle cx="768.18" cy="132.33" r="3.45"/>
<circle cx="772.55" cy="119.49" r="3.45"/>
<circle cx="785.39" cy="141.33" r="3.45"/>
<circle cx="793.1" cy="147.75" r="3.45"/>
<circle cx="796.96" cy="136.19" r="3.45"/>
<circle cx="802.1" cy="143.9" r="3.45"/>
<circle cx="789.25" cy="155.2" r="3.45"/>
<circle cx="798.24" cy="163.17" r="3.45"/>
<circle cx="804.67" cy="159.31" r="3.45"/>
<circle cx="812.37" cy="179.87" r="3.45"/>
<circle cx="813.15" cy="188.86" r="3.45"/>
<circle cx="818.03" cy="196.57" r="3.45"/>
<circle cx="821.37" cy="204.28" r="3.45"/>
<circle cx="827.28" cy="211.22" r="3.45"/>
<circle cx="755.33" cy="35.97" r="3.45"/>
<circle cx="782.82" cy="36.74" r="3.45"/>
<circle cx="755.84" cy="44.97" r="3.45"/>
<circle cx="920.3" cy="40.34" r="3.45"/>
<circle cx="924.15" cy="44.2" r="3.45"/>
<circle cx="935.2" cy="51.39" r="3.45"/>
<circle cx="950.36" cy="47.54" r="3.45"/>
<circle cx="950.62" cy="53.45" r="3.45"/>
<circle cx="951.13" cy="57.04" r="3.45"/>
<circle cx="959.35" cy="59.61" r="3.45"/>
<circle cx="956.78" cy="62.95" r="3.45"/>
<circle cx="959.35" cy="66.29" r="3.45"/>
<circle cx="955.5" cy="73.23" r="3.45"/>
<circle cx="958.33" cy="82.23" r="3.45"/>
<circle cx="956.53" cy="91.99" r="3.45"/>
<circle cx="956.53" cy="101.5" r="3.45"/>
<circle cx="953.19" cy="111.26" r="3.45"/>
<circle cx="956.27" cy="120" r="3.45"/>
<circle cx="926.21" cy="82.23" r="3.45"/>
<circle cx="922.35" cy="130.28" r="3.45"/>
<circle cx="838.07" cy="90.45" r="3.45"/>
<circle cx="855.54" cy="139.53" r="3.45"/>
<circle cx="852.97" cy="149.04" r="3.45"/>
<circle cx="828.31" cy="157" r="3.45"/>
<circle cx="832.93" cy="188.86" r="3.45"/>
<circle cx="838.07" cy="197.09" r="3.45"/>
<circle cx="838.07" cy="205.57" r="3.45"/>
<circle cx="845.78" cy="223.55" r="3.45"/>
<circle cx="852.2" cy="238.97" r="3.45"/>
<circle cx="835.82" cy="194.59" r="3.45"/>
<circle cx="838.53" cy="204.83" r="3.45"/>
<circle cx="842.76" cy="214.02" r="3.45"/>
<circle cx="847.5" cy="223.64" r="3.45"/>
<circle cx="850.12" cy="233.92" r="3.45"/>
<circle cx="853.25" cy="243.99" r="3.45"/>
<circle cx="855.02" cy="253.4" r="3.45"/>
<circle cx="858.73" cy="262.84" r="3.45"/>
<circle cx="860.85" cy="272.11" r="3.45"/>
<circle cx="863.07" cy="281.41" r="3.45"/>
<circle cx="865.08" cy="291.12" r="3.45"/>
<circle cx="867.1" cy="301.65" r="3.45"/>
<circle cx="872.65" cy="310.92" r="3.45"/>
<circle cx="872.44" cy="320.91" r="3.45"/>
<circle cx="877.51" cy="331.67" r="3.45"/>
<circle cx="877.49" cy="341.03" r="3.45"/>
<circle cx="878.65" cy="350.42" r="3.45"/>
<circle cx="879.36" cy="360.59" r="3.45"/>
<circle cx="880.07" cy="370.88" r="3.45"/>
<circle cx="883.22" cy="380.33" r="3.45"/>
<circle cx="882.53" cy="390.15" r="3.45"/>
<circle cx="882.76" cy="400.28" r="3.45"/>
<circle cx="880.71" cy="410.07" r="3.45"/>
<circle cx="880.63" cy="420.41" r="3.45"/>
<circle cx="872.53" cy="431.15" r="3.45"/>
<circle cx="870.91" cy="440.89" r="3.45"/>
<circle cx="869.98" cy="451.17" r="3.45"/>
<circle cx="868.38" cy="460.53" r="3.45"/>
<circle cx="867.57" cy="470.29" r="3.45"/>
<circle cx="866.3" cy="480.76" r="3.45"/>
<circle cx="865.73" cy="489.99" r="3.45"/>
<circle cx="864.76" cy="499.85" r="3.45"/>
<circle cx="864.06" cy="509.38" r="3.45"/>
<circle cx="863.56" cy="519.18" r="3.45"/>
<circle cx="862.47" cy="528.52" r="3.45"/>
<circle cx="861.6" cy="537.99" r="3.45"/>
<circle cx="860.12" cy="547.22" r="3.45"/>
<circle cx="859.76" cy="556.95" r="3.45"/>
<circle cx="858.82" cy="566.21" r="3.45"/>
<circle cx="857.87" cy="575.73" r="3.45"/>
<circle cx="857.88" cy="585.66" r="3.45"/>
<circle cx="857.42" cy="595.61" r="3.45"/>
<circle cx="856.98" cy="605.06" r="3.45"/>
<circle cx="855.52" cy="614.82" r="3.45"/>
<circle cx="855.63" cy="625.19" r="3.45"/>
<circle cx="853.97" cy="634.38" r="3.45"/>
<circle cx="852.91" cy="644.79" r="3.45"/>
<circle cx="851.77" cy="654.35" r="3.45"/>
<circle cx="851.88" cy="663.59" r="3.45"/>
<circle cx="851.9" cy="674.34" r="3.45"/>
<circle cx="850.51" cy="684.32" r="3.45"/>
<circle cx="850.8" cy="694.02" r="3.45"/>
<circle cx="849.8" cy="704.52" r="3.45"/>
<circle cx="848.99" cy="714.07" r="3.45"/>
<circle cx="848.47" cy="724.01" r="3.45"/>
<circle cx="848.5" cy="733.61" r="3.45"/>
<circle cx="847.36" cy="744.21" r="3.45"/>
<circle cx="848.3" cy="753.86" r="3.45"/>
<circle cx="848.62" cy="763.48" r="3.45"/>
<circle cx="848.59" cy="773.48" r="3.45"/>
<circle cx="848.28" cy="783.78" r="3.45"/>
<circle cx="848.54" cy="793.42" r="3.45"/>
<circle cx="849.25" cy="803.68" r="3.45"/>
<circle cx="849.58" cy="813.07" r="3.45"/>
<circle cx="832.71" cy="197.98" r="3.45"/>
<circle cx="838.51" cy="208.72" r="3.45"/>
<circle cx="844.21" cy="218.9" r="3.45"/>
<circle cx="848.27" cy="229.61" r="3.45"/>
<circle cx="851.28" cy="239.45" r="3.45"/>
<circle cx="855.4" cy="250.07" r="3.45"/>
<circle cx="856.61" cy="260.18" r="3.45"/>
<circle cx="860.2" cy="269.94" r="3.45"/>
<circle cx="860.44" cy="280.02" r="3.45"/>
<circle cx="865.67" cy="290.33" r="3.45"/>
<circle cx="868.05" cy="300.78" r="3.45"/>
<circle cx="869.11" cy="311.42" r="3.45"/>
<circle cx="870.15" cy="321.85" r="3.45"/>
<circle cx="871.34" cy="331.19" r="3.45"/>
<circle cx="874.08" cy="340.87" r="3.45"/>
<circle cx="873.89" cy="351.14" r="3.45"/>
<circle cx="873.41" cy="361.32" r="3.45"/>
<circle cx="876.15" cy="371.35" r="3.45"/>
<circle cx="875.71" cy="381.15" r="3.45"/>
<circle cx="876.89" cy="390.98" r="3.45"/>
<circle cx="877.03" cy="401.25" r="3.45"/>
<circle cx="877.52" cy="410.58" r="3.45"/>
<circle cx="876.85" cy="420.87" r="3.45"/>
<circle cx="872.07" cy="431.1" r="3.45"/>
<circle cx="870.06" cy="440.86" r="3.45"/>
<circle cx="869.55" cy="450.82" r="3.45"/>
<circle cx="868.9" cy="460.28" r="3.45"/>
<circle cx="867.37" cy="470" r="3.45"/>
<circle cx="867.05" cy="479.7" r="3.45"/>
<circle cx="865.27" cy="488.9" r="3.45"/>
<circle cx="864.3" cy="498.52" r="3.45"/>
<circle cx="863.5" cy="508.39" r="3.45"/>
<circle cx="862.51" cy="519.03" r="3.45"/>
<circle cx="860.82" cy="529.33" r="3.45"/>
<circle cx="859.91" cy="539.25" r="3.45"/>
<circle cx="858.1" cy="549.77" r="3.45"/>
<circle cx="857.78" cy="559.68" r="3.45"/>
<circle cx="856.03" cy="570.19" r="3.45"/>
<circle cx="855.81" cy="580.23" r="3.45"/>
<circle cx="855.05" cy="590.04" r="3.45"/>
<circle cx="855.14" cy="600.27" r="3.45"/>
<circle cx="854.51" cy="610.33" r="3.45"/>
<circle cx="854.19" cy="620.07" r="3.45"/>
<circle cx="853.44" cy="629.76" r="3.45"/>
<circle cx="852.51" cy="639.52" r="3.45"/>
<circle cx="851.75" cy="648.91" r="3.45"/>
<circle cx="851.42" cy="658.96" r="3.45"/>
<circle cx="851.71" cy="668.21" r="3.45"/>
<circle cx="851.78" cy="677.85" r="3.45"/>
<circle cx="850.93" cy="687.98" r="3.45"/>
<circle cx="850.62" cy="698.55" r="3.45"/>
<circle cx="848.83" cy="708.24" r="3.45"/>
<circle cx="848.75" cy="718.45" r="3.45"/>
<circle cx="847.8" cy="728.6" r="3.45"/>
<circle cx="847.04" cy="738.43" r="3.45"/>
<circle cx="846.32" cy="748.03" r="3.45"/>
<circle cx="846.19" cy="757.82" r="3.45"/>
<circle cx="846.66" cy="767.63" r="3.45"/>
<circle cx="845.99" cy="777.08" r="3.45"/>
<circle cx="847.01" cy="786.67" r="3.45"/>
<circle cx="846.09" cy="796.68" r="3.45"/>
<circle cx="847.3" cy="807.19" r="3.45"/>
<circle cx="830.33" cy="201.37" r="3.45"/>
<circle cx="832.78" cy="211.04" r="3.45"/>
<circle cx="839.14" cy="221.6" r="3.45"/>
<circle cx="842.74" cy="231.11" r="3.45"/>
<circle cx="843.84" cy="240.33" r="3.45"/>
<circle cx="846.11" cy="249.53" r="3.45"/>
<circle cx="849.97" cy="258.97" r="3.45"/>
<circle cx="850.52" cy="268.62" r="3.45"/>
<circle cx="853.23" cy="278.09" r="3.45"/>
<circle cx="856.83" cy="288.65" r="3.45"/>
<circle cx="859.45" cy="297.99" r="3.45"/>
<circle cx="861.43" cy="308.02" r="3.45"/>
<circle cx="863.95" cy="318.04" r="3.45"/>
<circle cx="865.63" cy="328.5" r="3.45"/>
<circle cx="866.94" cy="338.69" r="3.45"/>
<circle cx="868.25" cy="348.88" r="3.45"/>
<circle cx="869.75" cy="358.72" r="3.45"/>
<circle cx="870.22" cy="369.04" r="3.45"/>
<circle cx="872.03" cy="379.7" r="3.45"/>
<circle cx="873.64" cy="390.24" r="3.45"/>
<circle cx="874.13" cy="400.95" r="3.45"/>
<circle cx="872.88" cy="410.81" r="3.45"/>
<circle cx="871.5" cy="420.95" r="3.45"/>
<circle cx="868.87" cy="431.47" r="3.45"/>
<circle cx="867.77" cy="440.75" r="3.45"/>
<circle cx="866.61" cy="450.06" r="3.45"/>
<circle cx="865.81" cy="459.25" r="3.45"/>
<circle cx="865.25" cy="468.61" r="3.45"/>
<circle cx="864.29" cy="478.77" r="3.45"/>
<circle cx="862.76" cy="489.49" r="3.45"/>
<circle cx="861.09" cy="500.18" r="3.45"/>
<circle cx="861.38" cy="509.72" r="3.45"/>
<circle cx="859.43" cy="519.66" r="3.45"/>
<circle cx="858.55" cy="530.05" r="3.45"/>
<circle cx="857.16" cy="540.09" r="3.45"/>
<circle cx="855.8" cy="549.66" r="3.45"/>
<circle cx="855.95" cy="559.8" r="3.45"/>
<circle cx="854.85" cy="570.56" r="3.45"/>
<circle cx="853.58" cy="581.23" r="3.45"/>
<circle cx="853.69" cy="590.88" r="3.45"/>
<circle cx="853.12" cy="601.02" r="3.45"/>
<circle cx="852.28" cy="610.21" r="3.45"/>
<circle cx="852.38" cy="620.16" r="3.45"/>
<circle cx="851.72" cy="630.66" r="3.45"/>
<circle cx="850.4" cy="640.38" r="3.45"/>
<circle cx="850.26" cy="650.93" r="3.45"/>
<circle cx="848.77" cy="660.89" r="3.45"/>
<circle cx="848.7" cy="671.06" r="3.45"/>
<circle cx="848.1" cy="680.82" r="3.45"/>
<circle cx="848.09" cy="690.61" r="3.45"/>
<circle cx="847.15" cy="699.99" r="3.45"/>
<circle cx="846.45" cy="710.69" r="3.45"/>
<circle cx="845.26" cy="720.27" r="3.45"/>
<circle cx="844.99" cy="729.61" r="3.45"/>
<circle cx="843.9" cy="739.8" r="3.45"/>
<circle cx="844.17" cy="749.85" r="3.45"/>
<circle cx="844.01" cy="759.95" r="3.45"/>
<circle cx="844.14" cy="769.63" r="3.45"/>
<circle cx="844.34" cy="780.4" r="3.45"/>
<circle cx="844.75" cy="790.38" r="3.45"/>
<circle cx="844.92" cy="799.83" r="3.45"/>
<circle cx="845.07" cy="809.34" r="3.45"/>
</g>
<polyline points="637.6,28.98 853.5,48.93 861.2,68.88 852.2,88.84 809.3,108.79 828.3,128.74 813.1,148.69 805.4,168.65 825.2,188.6 834.2,208.55 842.4,228.51 849.6,248.46 855.5,268.41 861.7,288.37 867.6,308.32 871.4,328.27 873.5,348.22 874.5,368.18 875.3,388.13 875.3,408.08 870.2,428.04 868.1,447.99 866.3,467.94 864.3,487.9 863.2,507.85 861.2,527.8 858.6,547.75 856.5,567.71 854.5,587.66 853.5,607.61 852.2,627.57 850.4,647.52 849.6,667.47 849.6,687.43 848.3,707.38 847,727.33 846.3,747.28 846.3,767.24 846.3,787.19 846.3,807.14" fill="none" stroke="#0000ff" stroke-width="2.83" stroke-linejoin="round"/>
<g fill="#0000ff">
<circle cx="637.6" cy="28.98" r="6"/>
<circle cx="853.5" cy="48.93" r="6"/>
<circle cx="861.2" cy="68.88" r="6"/>
<circle cx="852.2" cy="88.84" r="6"/>
<circle cx="809.3" cy="108.79" r="6"/>
<circle cx="828.3" cy="128.74" r="6"/>
<circle cx="813.1" cy="148.69" r="6"/>
<circle cx="805.4" cy="168.65" r="6"/>
<circle cx="825.2" cy="188.6" r="6"/>
<circle cx="834.2" cy="208.55" r="6"/>
<circle cx="842.4" cy="228.51" r="6"/>
<circle cx="849.6" cy="248.46" r="6"/>
<circle cx="855.5" cy="268.41" r="6"/>
<circle cx="861.7" cy="288.37" r="6"/>
<circle cx="867.6" cy="308.32" r="6"/>
<circle cx="871.4" cy="328.27" r="6"/>
<circle cx="873.5" cy="348.22" r="6"/>
<circle cx="874.5" cy="368.18" r="6"/>
<circle cx="875.3" cy="388.13" r="6"/>
<circle cx="875.3" cy="408.08" r="6"/>
<circle cx="870.2" cy="428.04" r="6"/>
<circle cx="868.1" cy="447.99" r="6"/>
<circle cx="866.3" cy="467.94" r="6"/>
<circle cx="864.3" cy="487.9" r="6"/>
<circle cx="863.2" cy="507.85" r="6"/>
<circle cx="861.2" cy="527.8" r="6"/>
<circle cx="858.6" cy="547.75" r="6"/>
<circle cx="856.5" cy="567.71" r="6"/>
<circle cx="854.5" cy="587.66" r="6"/>
<circle cx="853.5" cy="607.61" r="6"/>
<circle cx="852.2" cy="627.57" r="6"/>
<circle cx="850.4" cy="647.52" r="6"/>
<circle cx="849.6" cy="667.47" r="6"/>
<circle cx="849.6" cy="687.43" r="6"/>
<circle cx="848.3" cy="707.38" r="6"/>
<circle cx="847" cy="727.33" r="6"/>
<circle cx="846.3" cy="747.28" r="6"/>
<circle cx="846.3" cy="767.24" r="6"/>
<circle cx="846.3" cy="787.19" r="6"/>
<circle cx="846.3" cy="807.14" r="6"/>
</g>
<polyline points="708.3,19 708.3,22.99 708.3,26.98 708.3,30.97 708.3,34.96 708.3,38.95 708.3,42.94 708.5,48.93 710.9,58.91 717.3,68.88 732.7,78.86 746.8,88.84 763.5,98.81 771.2,108.79 777.7,118.77 794.4,138.72 809.8,158.67 821.4,178.62 828.3,198.58 834.2,218.53 849.6,268.41 863.2,318.3 870.2,418.06 865.8,517.83 862.5,617.59 861.2,717.36 859,817.12" fill="none" stroke="#ff0000" stroke-width="8.48" stroke-linejoin="round"/>
<g fill="#ff0000">
<circle cx="708.3" cy="19" r="6"/>
<circle cx="708.3" cy="22.99" r="6"/>
<circle cx="708.3" cy="26.98" r="6"/>
<circle cx="708.3" cy="30.97" r="6"/>
<circle cx="708.3" cy="34.96" r="6"/>
<circle cx="708.3" cy="38.95" r="6"/>
<circle cx="708.3" cy="42.94" r="6"/>
<circle cx="708.5" cy="48.93" r="6"/>
<circle cx="710.9" cy="58.91" r="6"/>
<circle cx="717.3" cy="68.88" r="6"/>
<circle cx="732.7" cy="78.86" r="6"/>
<circle cx="746.8" cy="88.84" r="6"/>
<circle cx="763.5" cy="98.81" r="6"/>
<circle cx="771.2" cy="108.79" r="6"/>
<circle cx="777.7" cy="118.77" r="6"/>
<circle cx="794.4" cy="138.72" r="6"/>
<circle cx="809.8" cy="158.67" r="6"/>
<circle cx="821.4" cy="178.62" r="6"/>
<circle cx="828.3" cy="198.58" r="6"/>
<circle cx="834.2" cy="218.53" r="6"/>
<circle cx="849.6" cy="268.41" r="6"/>
<circle cx="863.2" cy="318.3" r="6"/>
<circle cx="870.2" cy="418.06" r="6"/>
<circle cx="865.8" cy="517.83" r="6"/>
<circle cx="862.5" cy="617.59" r="6"/>
<circle cx="861.2" cy="717.36" r="6"/>
<circle cx="859" cy="817.12" r="6"/>
</g>
<polyline points="721.3,19 721.6,22.99 722.2,26.98 723,30.97 724.3,34.96 726,38.95 728.5,42.94 761,48.93 834.2,58.91 889.4,68.88 906.6,78.86 917.2,88.84 923.4,98.81 928.5,108.79 932.3,118.77 938.3,138.72 942.6,158.67 947.2,178.62 951.1,198.58 954.2,218.53 960.6,268.41 944.2,318.3 927.5,418.06 902.3,517.83 885.6,617.59 879.2,717.36 877.4,817.12" fill="none" stroke="#4a3600" stroke-width="3.42" stroke-linejoin="round" stroke-opacity="0.65"/>
<g fill="#4a3600" fill-opacity="0.65">
<circle cx="721.3" cy="19" r="6.25"/>
<circle cx="721.6" cy="22.99" r="6.25"/>
<circle cx="722.2" cy="26.98" r="6.25"/>
<circle cx="723" cy="30.97" r="6.25"/>
<circle cx="724.3" cy="34.96" r="6.25"/>
<circle cx="726" cy="38.95" r="6.25"/>
<circle cx="728.5" cy="42.94" r="6.25"/>
<circle cx="761" cy="48.93" r="6.25"/>
<circle cx="834.2" cy="58.91" r="6.25"/>
<circle cx="889.4" cy="68.88" r="6.25"/>
<circle cx="906.6" cy="78.86" r="6.25"/>
<circle cx="917.2" cy="88.84" r="6.25"/>
<circle cx="923.4" cy="98.81" r="6.25"/>
<circle cx="928.5" cy="108.79" r="6.25"/>
<circle cx="932.3" cy="118.77" r="6.25"/>
<circle cx="938.3" cy="138.72" r="6.25"/>
<circle cx="942.6" cy="158.67" r="6.25"/>
<circle cx="947.2" cy="178.62" r="6.25"/>
<circle cx="951.1" cy="198.58" r="6.25"/>
<circle cx="954.2" cy="218.53" r="6.25"/>
<circle cx="960.6" cy="268.41" r="6.25"/>
<circle cx="944.2" cy="318.3" r="6.25"/>
<circle cx="927.5" cy="418.06" r="6.25"/>
<circle cx="902.3" cy="517.83" r="6.25"/>
<circle cx="885.6" cy="617.59" r="6.25"/>
<circle cx="879.2" cy="717.36" r="6.25"/>
<circle cx="877.4" cy="817.12" r="6.25"/>
</g>
<polyline points="721.3,19 721.6,22.99 722.2,26.98 723,30.97 724.3,34.96 726,38.95 728.5,42.94 761,48.93 834.2,58.91 889.4,68.88 906.6,78.86 917.2,88.84 923.4,98.81 928.5,108.79 932.3,118.77 938.3,138.72 942.6,158.67 947.2,178.62 951.1,198.58 954.2,218.53 960.6,268.41 944.2,318.3 927.5,418.06 902.3,517.83 885.6,617.59 879.2,717.36 877.4,817.12" fill="none" stroke="#ffa500" stroke-width="2.73" stroke-linejoin="round"/>
<g fill="#ffa500">
<circle cx="721.3" cy="19" r="5.9"/>
<circle cx="721.6" cy="22.99" r="5.9"/>
<circle cx="722.2" cy="26.98" r="5.9"/>
<circle cx="723" cy="30.97" r="5.9"/>
<circle cx="724.3" cy="34.96" r="5.9"/>
<circle cx="726" cy="38.95" r="5.9"/>
<circle cx="728.5" cy="42.94" r="5.9"/>
<circle cx="761" cy="48.93" r="5.9"/>
<circle cx="834.2" cy="58.91" r="5.9"/>
<circle cx="889.4" cy="68.88" r="5.9"/>
<circle cx="906.6" cy="78.86" r="5.9"/>
<circle cx="917.2" cy="88.84" r="5.9"/>
<circle cx="923.4" cy="98.81" r="5.9"/>
<circle cx="928.5" cy="108.79" r="5.9"/>
<circle cx="932.3" cy="118.77" r="5.9"/>
<circle cx="938.3" cy="138.72" r="5.9"/>
<circle cx="942.6" cy="158.67" r="5.9"/>
<circle cx="947.2" cy="178.62" r="5.9"/>
<circle cx="951.1" cy="198.58" r="5.9"/>
<circle cx="954.2" cy="218.53" r="5.9"/>
<circle cx="960.6" cy="268.41" r="5.9"/>
<circle cx="944.2" cy="318.3" r="5.9"/>
<circle cx="927.5" cy="418.06" r="5.9"/>
<circle cx="902.3" cy="517.83" r="5.9"/>
<circle cx="885.6" cy="617.59" r="5.9"/>
<circle cx="879.2" cy="717.36" r="5.9"/>
<circle cx="877.4" cy="817.12" r="5.9"/>
</g>
<polyline points="661.3,19.99 661.3,22.07 661.3,24.28 661.3,26.62 661.3,29.13 661.3,31.85 661.3,34.82 661.3,38.1 661.3,41.76 661.3,45.87 664.6,50.55 689.3,55.91 727.5,62.1 756.7,69.3 779.7,77.75 799.5,87.71 815.4,99.5 831.6,113.53 846.5,130.27 860.4,150.3 872.2,174.34 880.4,203.22 886.4,237.94 891.5,279.72 893.3,329.97 890.2,390.38 883.5,462.9 875.3,549.83 865.5,653.76 856.5,777.64" fill="none" stroke="#ff00ff" stroke-width="2.83" stroke-linejoin="round"/>
<g fill="#ff00ff">
<circle cx="661.3" cy="19.99" r="6"/>
<circle cx="661.3" cy="22.07" r="6"/>
<circle cx="661.3" cy="24.28" r="6"/>
<circle cx="661.3" cy="26.62" r="6"/>
<circle cx="661.3" cy="29.13" r="6"/>
<circle cx="661.3" cy="31.85" r="6"/>
<circle cx="661.3" cy="34.82" r="6"/>
<circle cx="661.3" cy="38.1" r="6"/>
<circle cx="661.3" cy="41.76" r="6"/>
<circle cx="661.3" cy="45.87" r="6"/>
<circle cx="664.6" cy="50.55" r="6"/>
<circle cx="689.3" cy="55.91" r="6"/>
<circle cx="727.5" cy="62.1" r="6"/>
<circle cx="756.7" cy="69.3" r="6"/>
<circle cx="779.7" cy="77.75" r="6"/>
<circle cx="799.5" cy="87.71" r="6"/>
<circle cx="815.4" cy="99.5" r="6"/>
<circle cx="831.6" cy="113.53" r="6"/>
<circle cx="846.5" cy="130.27" r="6"/>
<circle cx="860.4" cy="150.3" r="6"/>
<circle cx="872.2" cy="174.34" r="6"/>
<circle cx="880.4" cy="203.22" r="6"/>
<circle cx="886.4" cy="237.94" r="6"/>
<circle cx="891.5" cy="279.72" r="6"/>
<circle cx="893.3" cy="329.97" r="6"/>
<circle cx="890.2" cy="390.38" r="6"/>
<circle cx="883.5" cy="462.9" r="6"/>
<circle cx="875.3" cy="549.83" r="6"/>
<circle cx="865.5" cy="653.76" r="6"/>
<circle cx="856.5" cy="777.64" r="6"/>
</g>
</g>
<g stroke="#000" stroke-width="1.13" fill="none">
<line x1="582.5" y1="814.5" x2="582.5" y2="820.5"/>
<line x1="669.5" y1="814.5" x2="669.5" y2="820.5"/>
<line x1="756.5" y1="814.5" x2="756.5" y2="820.5"/>
<line x1="842.5" y1="814.5" x2="842.5" y2="820.5"/>
<line x1="929.5" y1="814.5" x2="929.5" y2="820.5"/>
<line x1="580.5" y1="19.5" x2="574.5" y2="19.5"/>
<line x1="580.5" y1="68.5" x2="574.5" y2="68.5"/>
<line x1="580.5" y1="118.5" x2="574.5" y2="118.5"/>
<line x1="580.5" y1="168.5" x2="574.5" y2="168.5"/>
<line x1="580.5" y1="218.5" x2="574.5" y2="218.5"/>
<line x1="580.5" y1="268.5" x2="574.5" y2="268.5"/>
<line x1="580.5" y1="318.5" x2="574.5" y2="318.5"/>
<line x1="580.5" y1="368.5" x2="574.5" y2="368.5"/>
<line x1="580.5" y1="418.5" x2="574.5" y2="418.5"/>
<line x1="580.5" y1="467.5" x2="574.5" y2="467.5"/>
<line x1="580.5" y1="517.5" x2="574.5" y2="517.5"/>
<line x1="580.5" y1="567.5" x2="574.5" y2="567.5"/>
<line x1="580.5" y1="617.5" x2="574.5" y2="617.5"/>
<line x1="580.5" y1="667.5" x2="574.5" y2="667.5"/>
<line x1="580.5" y1="717.5" x2="574.5" y2="717.5"/>
<line x1="580.5" y1="767.5" x2="574.5" y2="767.5"/>
<rect x="580.5" y="19.5" width="402" height="795"/>
</g>
<g font-size="16.95" fill="#000">
<text x="582.5" y="841.6" text-anchor="middle">32</text>
<text x="669.5" y="841.6" text-anchor="middle">33</text>
<text x="756.5" y="841.6" text-anchor="middle">34</text>
<text x="842.5" y="841.6" text-anchor="middle">35</text>
<text x="929.5" y="841.6" text-anchor="middle">36</text>
</g>
</g>
<g id="panel2">
<g stroke="#a9a9a9" stroke-width="0.8" stroke-dasharray="2.62 1.13" fill="none">
<line x1="1138.5" y1="814.5" x2="1138.5" y2="19.5"/>
<line x1="1224.5" y1="814.5" x2="1224.5" y2="19.5"/>
<line x1="1309.5" y1="814.5" x2="1309.5" y2="19.5"/>
<line x1="1395.5" y1="814.5" x2="1395.5" y2="19.5"/>
<line x1="1072.5" y1="19.5" x2="1474.5" y2="19.5"/>
<line x1="1072.5" y1="68.5" x2="1474.5" y2="68.5"/>
<line x1="1072.5" y1="118.5" x2="1474.5" y2="118.5"/>
<line x1="1072.5" y1="168.5" x2="1474.5" y2="168.5"/>
<line x1="1072.5" y1="218.5" x2="1474.5" y2="218.5"/>
<line x1="1072.5" y1="268.5" x2="1474.5" y2="268.5"/>
<line x1="1072.5" y1="318.5" x2="1474.5" y2="318.5"/>
<line x1="1072.5" y1="368.5" x2="1474.5" y2="368.5"/>
<line x1="1072.5" y1="418.5" x2="1474.5" y2="418.5"/>
<line x1="1072.5" y1="467.5" x2="1474.5" y2="467.5"/>
<line x1="1072.5" y1="517.5" x2="1474.5" y2="517.5"/>
<line x1="1072.5" y1="567.5" x2="1474.5" y2="567.5"/>
<line x1="1072.5" y1="617.5" x2="1474.5" y2="617.5"/>
<line x1="1072.5" y1="667.5" x2="1474.5" y2="667.5"/>
<line x1="1072.5" y1="717.5" x2="1474.5" y2="717.5"/>
<line x1="1072.5" y1="767.5" x2="1474.5" y2="767.5"/>
</g>
<clipPath id="clip2"><rect x="1072.5" y="19.5" width="402" height="795"/></clipPath>
<g clip-path="url(#clip2)">
<g fill="#00ffff">
<circle cx="1092.95" cy="25.18" r="3.45"/>
<circle cx="1095.52" cy="29.55" r="3.45"/>
<circle cx="1117.37" cy="24.41" r="3.45"/>
<circle cx="1119.93" cy="35.97" r="3.45"/>
<circle cx="1121.73" cy="39.06" r="3.45"/>
<circle cx="1185.46" cy="40.6" r="3.45"/>
<circle cx="1191.88" cy="47.54" r="3.45"/>
<circle cx="1180.32" cy="47.54" r="3.45"/>
<circle cx="1200.88" cy="59.61" r="3.45"/>
<circle cx="1213.72" cy="63.73" r="3.45"/>
<circle cx="1221.43" cy="66.29" r="3.45"/>
<circle cx="1229.14" cy="61.67" r="3.45"/>
<circle cx="1275.39" cy="80.17" r="3.45"/>
<circle cx="1288.24" cy="87.37" r="3.45"/>
<circle cx="1298.52" cy="94.56" r="3.45"/>
<circle cx="1307.51" cy="100.21" r="3.45"/>
<circle cx="1311.37" cy="105.87" r="3.45"/>
<circle cx="1317.79" cy="113.06" r="3.45"/>
<circle cx="1311.37" cy="119.49" r="3.45"/>
<circle cx="1324.22" cy="125.91" r="3.45"/>
<circle cx="1329.36" cy="133.62" r="3.45"/>
<circle cx="1333.21" cy="143.9" r="3.45"/>
<circle cx="1337.06" cy="154.17" r="3.45"/>
<circle cx="1331.92" cy="156.74" r="3.45"/>
<circle cx="1330.73" cy="150.69" r="3.45"/>
<circle cx="1334.44" cy="160.96" r="3.45"/>
<circle cx="1336.98" cy="170.43" r="3.45"/>
<circle cx="1340.24" cy="179.85" r="3.45"/>
<circle cx="1343.66" cy="190.2" r="3.45"/>
<circle cx="1346.85" cy="200.22" r="3.45"/>
<circle cx="1349.93" cy="209.87" r="3.45"/>
<circle cx="1352.42" cy="220.39" r="3.45"/>
<circle cx="1354.07" cy="229.59" r="3.45"/>
<circle cx="1357.68" cy="239" r="3.45"/>
<circle cx="1360.62" cy="249.47" r="3.45"/>
<circle cx="1362.36" cy="259.97" r="3.45"/>
<circle cx="1364.25" cy="270.67" r="3.45"/>
<circle cx="1366.04" cy="280.25" r="3.45"/>
<circle cx="1367.74" cy="290.21" r="3.45"/>
<circle cx="1369.32" cy="300.29" r="3.45"/>
<circle cx="1371.18" cy="310.05" r="3.45"/>
<circle cx="1372.3" cy="319.73" r="3.45"/>
<circle cx="1374.84" cy="330.21" r="3.45"/>
<circle cx="1376.75" cy="340.96" r="3.45"/>
<circle cx="1378.71" cy="351.03" r="3.45"/>
<circle cx="1380.22" cy="360.42" r="3.45"/>
<circle cx="1381.37" cy="370.31" r="3.45"/>
<circle cx="1383.58" cy="379.81" r="3.45"/>
<circle cx="1385.36" cy="389.39" r="3.45"/>
<circle cx="1387.38" cy="399.54" r="3.45"/>
<circle cx="1389.41" cy="408.92" r="3.45"/>
<circle cx="1390.92" cy="418.48" r="3.45"/>
<circle cx="1392.84" cy="427.97" r="3.45"/>
<circle cx="1394.77" cy="437.26" r="3.45"/>
<circle cx="1396.18" cy="447.96" r="3.45"/>
<circle cx="1398.35" cy="458.29" r="3.45"/>
<circle cx="1399.01" cy="467.54" r="3.45"/>
<circle cx="1401.24" cy="478" r="3.45"/>
<circle cx="1402.08" cy="488.2" r="3.45"/>
<circle cx="1404.08" cy="498.04" r="3.45"/>
<circle cx="1405.42" cy="508.63" r="3.45"/>
<circle cx="1406.53" cy="518.13" r="3.45"/>
<circle cx="1407.53" cy="527.91" r="3.45"/>
<circle cx="1409.14" cy="537.31" r="3.45"/>
<circle cx="1410.43" cy="547.45" r="3.45"/>
<circle cx="1411.54" cy="556.97" r="3.45"/>
<circle cx="1412.86" cy="567.07" r="3.45"/>
<circle cx="1414.52" cy="576.82" r="3.45"/>
<circle cx="1415.68" cy="586.55" r="3.45"/>
<circle cx="1417.66" cy="595.99" r="3.45"/>
<circle cx="1418.82" cy="605.35" r="3.45"/>
<circle cx="1420.95" cy="614.63" r="3.45"/>
<circle cx="1422.76" cy="624.7" r="3.45"/>
<circle cx="1424.28" cy="633.94" r="3.45"/>
<circle cx="1425.56" cy="643.67" r="3.45"/>
<circle cx="1427.9" cy="652.85" r="3.45"/>
<circle cx="1428.68" cy="662.22" r="3.45"/>
<circle cx="1430.33" cy="671.83" r="3.45"/>
<circle cx="1431.41" cy="681.13" r="3.45"/>
<circle cx="1433.02" cy="690.9" r="3.45"/>
<circle cx="1433.79" cy="700.08" r="3.45"/>
<circle cx="1435.66" cy="710.05" r="3.45"/>
<circle cx="1436.23" cy="720.06" r="3.45"/>
<circle cx="1437.16" cy="730.3" r="3.45"/>
<circle cx="1438.42" cy="739.53" r="3.45"/>
<circle cx="1440.1" cy="750.16" r="3.45"/>
<circle cx="1441.88" cy="759.76" r="3.45"/>
<circle cx="1443.4" cy="770.29" r="3.45"/>
<circle cx="1445.09" cy="780.41" r="3.45"/>
<circle cx="1446.58" cy="789.97" r="3.45"/>
<circle cx="1448.18" cy="799.48" r="3.45"/>
<circle cx="1449.52" cy="808.72" r="3.45"/>
<circle cx="1335.91" cy="154.08" r="3.45"/>
<circle cx="1338.86" cy="163.27" r="3.45"/>
<circle cx="1341.31" cy="172.75" r="3.45"/>
<circle cx="1344.09" cy="182.81" r="3.45"/>
<circle cx="1346.93" cy="192.45" r="3.45"/>
<circle cx="1349.92" cy="201.85" r="3.45"/>
<circle cx="1352.17" cy="211.21" r="3.45"/>
<circle cx="1353.4" cy="220.73" r="3.45"/>
<circle cx="1355.27" cy="230.53" r="3.45"/>
<circle cx="1358.61" cy="239.92" r="3.45"/>
<circle cx="1362.25" cy="249.8" r="3.45"/>
<circle cx="1363.49" cy="260.56" r="3.45"/>
<circle cx="1365.76" cy="270.59" r="3.45"/>
<circle cx="1368.41" cy="281.05" r="3.45"/>
<circle cx="1371.19" cy="291.65" r="3.45"/>
<circle cx="1372.84" cy="301.03" r="3.45"/>
<circle cx="1376.07" cy="310.61" r="3.45"/>
<circle cx="1377.36" cy="320.03" r="3.45"/>
<circle cx="1378.98" cy="329.8" r="3.45"/>
<circle cx="1380.83" cy="340.26" r="3.45"/>
<circle cx="1383.2" cy="350.58" r="3.45"/>
<circle cx="1384.53" cy="361.25" r="3.45"/>
<circle cx="1385.91" cy="371.9" r="3.45"/>
<circle cx="1387.55" cy="381.99" r="3.45"/>
<circle cx="1389.41" cy="392.51" r="3.45"/>
<circle cx="1389.94" cy="401.87" r="3.45"/>
<circle cx="1392.29" cy="411.9" r="3.45"/>
<circle cx="1393.2" cy="421.94" r="3.45"/>
<circle cx="1394.72" cy="432.65" r="3.45"/>
<circle cx="1395.89" cy="441.97" r="3.45"/>
<circle cx="1398.03" cy="451.19" r="3.45"/>
<circle cx="1399.63" cy="460.54" r="3.45"/>
<circle cx="1401.79" cy="471.1" r="3.45"/>
<circle cx="1403.15" cy="481.57" r="3.45"/>
<circle cx="1405.39" cy="491.74" r="3.45"/>
<circle cx="1406.69" cy="502.07" r="3.45"/>
<circle cx="1408.23" cy="512.46" r="3.45"/>
<circle cx="1410.51" cy="522.13" r="3.45"/>
<circle cx="1411.34" cy="532.06" r="3.45"/>
<circle cx="1413.22" cy="542.49" r="3.45"/>
<circle cx="1414.14" cy="551.68" r="3.45"/>
<circle cx="1415.59" cy="561.27" r="3.45"/>
<circle cx="1416.83" cy="571.94" r="3.45"/>
<circle cx="1418.78" cy="582.48" r="3.45"/>
<circle cx="1420.19" cy="592.32" r="3.45"/>
<circle cx="1421.04" cy="602.72" r="3.45"/>
<circle cx="1422.36" cy="612.31" r="3.45"/>
<circle cx="1424.03" cy="622.93" r="3.45"/>
<circle cx="1425.27" cy="632.42" r="3.45"/>
<circle cx="1426.52" cy="642.36" r="3.45"/>
<circle cx="1427.88" cy="652.45" r="3.45"/>
<circle cx="1429.66" cy="662.94" r="3.45"/>
<circle cx="1431.49" cy="672.28" r="3.45"/>
<circle cx="1433.25" cy="681.95" r="3.45"/>
<circle cx="1434.53" cy="691.92" r="3.45"/>
<circle cx="1436.08" cy="702.43" r="3.45"/>
<circle cx="1438.16" cy="712.8" r="3.45"/>
<circle cx="1439.9" cy="722.66" r="3.45"/>
<circle cx="1441.15" cy="731.88" r="3.45"/>
<circle cx="1442.5" cy="741.28" r="3.45"/>
<circle cx="1443.29" cy="750.71" r="3.45"/>
<circle cx="1446.13" cy="760.68" r="3.45"/>
<circle cx="1447.43" cy="770.27" r="3.45"/>
<circle cx="1448.65" cy="780.42" r="3.45"/>
<circle cx="1449.78" cy="790.45" r="3.45"/>
<circle cx="1451.77" cy="800.34" r="3.45"/>
<circle cx="1452.05" cy="810.06" r="3.45"/>
<circle cx="1335.76" cy="157.47" r="3.45"/>
<circle cx="1339.35" cy="168.11" r="3.45"/>
<circle cx="1342.33" cy="177.45" r="3.45"/>
<circle cx="1345.36" cy="188.12" r="3.45"/>
<circle cx="1347.94" cy="198.62" r="3.45"/>
<circle cx="1350.59" cy="208.95" r="3.45"/>
<circle cx="1351.98" cy="219.07" r="3.45"/>
<circle cx="1354.34" cy="228.46" r="3.45"/>
<circle cx="1356.61" cy="238.59" r="3.45"/>
<circle cx="1360.41" cy="248.8" r="3.45"/>
<circle cx="1362.6" cy="258.79" r="3.45"/>
<circle cx="1364.32" cy="269.37" r="3.45"/>
<circle cx="1366.84" cy="279.85" r="3.45"/>
<circle cx="1369.08" cy="289.94" r="3.45"/>
<circle cx="1371.75" cy="300.61" r="3.45"/>
<circle cx="1374.11" cy="311.3" r="3.45"/>
<circle cx="1376.77" cy="321.56" r="3.45"/>
<circle cx="1378.11" cy="331.83" r="3.45"/>
<circle cx="1380.1" cy="341.13" r="3.45"/>
<circle cx="1382.3" cy="350.97" r="3.45"/>
<circle cx="1384.07" cy="361.4" r="3.45"/>
<circle cx="1384.82" cy="371.29" r="3.45"/>
<circle cx="1386.71" cy="381.37" r="3.45"/>
<circle cx="1387.43" cy="390.68" r="3.45"/>
<circle cx="1389.01" cy="400.09" r="3.45"/>
<circle cx="1391.26" cy="409.74" r="3.45"/>
<circle cx="1392.6" cy="419.25" r="3.45"/>
<circle cx="1393.27" cy="428.9" r="3.45"/>
<circle cx="1394.69" cy="439.64" r="3.45"/>
<circle cx="1396.12" cy="449" r="3.45"/>
<circle cx="1397.9" cy="458.28" r="3.45"/>
<circle cx="1399.29" cy="467.8" r="3.45"/>
<circle cx="1401.42" cy="477" r="3.45"/>
<circle cx="1402.64" cy="486.26" r="3.45"/>
<circle cx="1405.03" cy="496.34" r="3.45"/>
<circle cx="1406.67" cy="506.57" r="3.45"/>
<circle cx="1408.34" cy="516.87" r="3.45"/>
<circle cx="1409.31" cy="527.41" r="3.45"/>
<circle cx="1411.34" cy="536.67" r="3.45"/>
<circle cx="1412.92" cy="546.68" r="3.45"/>
<circle cx="1413.99" cy="557.1" r="3.45"/>
<circle cx="1415.52" cy="567.41" r="3.45"/>
<circle cx="1416.72" cy="577.26" r="3.45"/>
<circle cx="1418.32" cy="586.89" r="3.45"/>
<circle cx="1419.99" cy="596.95" r="3.45"/>
<circle cx="1421.06" cy="606.58" r="3.45"/>
<circle cx="1422.38" cy="615.91" r="3.45"/>
<circle cx="1423.98" cy="625.35" r="3.45"/>
<circle cx="1424.9" cy="636.06" r="3.45"/>
<circle cx="1426.33" cy="646.53" r="3.45"/>
<circle cx="1427.62" cy="656.2" r="3.45"/>
<circle cx="1429.11" cy="666.08" r="3.45"/>
<circle cx="1431.04" cy="676.39" r="3.45"/>
<circle cx="1432.63" cy="686.23" r="3.45"/>
<circle cx="1433.85" cy="695.78" r="3.45"/>
<circle cx="1435.22" cy="705.54" r="3.45"/>
<circle cx="1436.89" cy="716.14" r="3.45"/>
<circle cx="1438.94" cy="725.48" r="3.45"/>
<circle cx="1440.18" cy="735.96" r="3.45"/>
<circle cx="1441.34" cy="745.81" r="3.45"/>
<circle cx="1443.54" cy="754.99" r="3.45"/>
<circle cx="1445.14" cy="764.56" r="3.45"/>
<circle cx="1446.77" cy="775.19" r="3.45"/>
<circle cx="1448.92" cy="784.94" r="3.45"/>
<circle cx="1449.72" cy="795.31" r="3.45"/>
<circle cx="1451.52" cy="805.68" r="3.45"/>
</g>
<polyline points="1115.6,28.98 1188.8,48.93 1233,68.88 1283.1,88.84 1304.9,108.79 1321.6,128.74 1331.9,148.69 1338.3,168.65 1344.7,188.6 1350.4,208.55 1354.5,228.51 1360.7,248.46 1364.5,268.41 1368.6,288.37 1373,308.32 1376.4,328.27 1380.2,348.22 1383.3,368.18 1386.6,388.13 1390.2,408.08 1393.6,428.04 1396.7,447.99 1400,467.94 1403.3,487.9 1406.4,507.85 1409,527.8 1412.1,547.75 1414.6,567.71 1417.5,587.66 1420.5,607.61 1423.9,627.57 1427,647.52 1430.1,667.47 1432.9,687.43 1436,707.38 1438.5,727.33 1441.1,747.28 1445,767.24 1448,787.19 1450.9,807.14" fill="none" stroke="#0000ff" stroke-width="2.83" stroke-linejoin="round"/>
<g fill="#0000ff">
<circle cx="1115.6" cy="28.98" r="6"/>
<circle cx="1188.8" cy="48.93" r="6"/>
<circle cx="1233" cy="68.88" r="6"/>
<circle cx="1283.1" cy="88.84" r="6"/>
<circle cx="1304.9" cy="108.79" r="6"/>
<circle cx="1321.6" cy="128.74" r="6"/>
<circle cx="1331.9" cy="148.69" r="6"/>
<circle cx="1338.3" cy="168.65" r="6"/>
<circle cx="1344.7" cy="188.6" r="6"/>
<circle cx="1350.4" cy="208.55" r="6"/>
<circle cx="1354.5" cy="228.51" r="6"/>
<circle cx="1360.7" cy="248.46" r="6"/>
<circle cx="1364.5" cy="268.41" r="6"/>
<circle cx="1368.6" cy="288.37" r="6"/>
<circle cx="1373" cy="308.32" r="6"/>
<circle cx="1376.4" cy="328.27" r="6"/>
<circle cx="1380.2" cy="348.22" r="6"/>
<circle cx="1383.3" cy="368.18" r="6"/>
<circle cx="1386.6" cy="388.13" r="6"/>
<circle cx="1390.2" cy="408.08" r="6"/>
<circle cx="1393.6" cy="428.04" r="6"/>
<circle cx="1396.7" cy="447.99" r="6"/>
<circle cx="1400" cy="467.94" r="6"/>
<circle cx="1403.3" cy="487.9" r="6"/>
<circle cx="1406.4" cy="507.85" r="6"/>
<circle cx="1409" cy="527.8" r="6"/>
<circle cx="1412.1" cy="547.75" r="6"/>
<circle cx="1414.6" cy="567.71" r="6"/>
<circle cx="1417.5" cy="587.66" r="6"/>
<circle cx="1420.5" cy="607.61" r="6"/>
<circle cx="1423.9" cy="627.57" r="6"/>
<circle cx="1427" cy="647.52" r="6"/>
<circle cx="1430.1" cy="667.47" r="6"/>
<circle cx="1432.9" cy="687.43" r="6"/>
<circle cx="1436" cy="707.38" r="6"/>
<circle cx="1438.5" cy="727.33" r="6"/>
<circle cx="1441.1" cy="747.28" r="6"/>
<circle cx="1445" cy="767.24" r="6"/>
<circle cx="1448" cy="787.19" r="6"/>
<circle cx="1450.9" cy="807.14" r="6"/>
</g>
<polyline points="1143.5,19 1143.5,22.99 1143.6,26.98 1143.8,30.97 1144.1,34.96 1144.6,38.95 1145.4,42.94 1148,48.93 1152,58.91 1159.8,68.88 1176.5,78.86 1193.2,88.84 1211.1,98.81 1225.3,108.79 1238.1,118.77 1261.3,138.72 1281.8,158.67 1295.9,178.62 1308,198.58 1319.6,218.53 1342.2,268.41 1361.5,318.3 1384.6,418.06 1409.8,517.83 1425.7,617.59 1439.8,717.36 1452.7,817.12" fill="none" stroke="#ff0000" stroke-width="8.48" stroke-linejoin="round"/>
<g fill="#ff0000">
<circle cx="1143.5" cy="19" r="6"/>
<circle cx="1143.5" cy="22.99" r="6"/>
<circle cx="1143.6" cy="26.98" r="6"/>
<circle cx="1143.8" cy="30.97" r="6"/>
<circle cx="1144.1" cy="34.96" r="6"/>
<circle cx="1144.6" cy="38.95" r="6"/>
<circle cx="1145.4" cy="42.94" r="6"/>
<circle cx="1148" cy="48.93" r="6"/>
<circle cx="1152" cy="58.91" r="6"/>
<circle cx="1159.8" cy="68.88" r="6"/>
<circle cx="1176.5" cy="78.86" r="6"/>
<circle cx="1193.2" cy="88.84" r="6"/>
<circle cx="1211.1" cy="98.81" r="6"/>
<circle cx="1225.3" cy="108.79" r="6"/>
<circle cx="1238.1" cy="118.77" r="6"/>
<circle cx="1261.3" cy="138.72" r="6"/>
<circle cx="1281.8" cy="158.67" r="6"/>
<circle cx="1295.9" cy="178.62" r="6"/>
<circle cx="1308" cy="198.58" r="6"/>
<circle cx="1319.6" cy="218.53" r="6"/>
<circle cx="1342.2" cy="268.41" r="6"/>
<circle cx="1361.5" cy="318.3" r="6"/>
<circle cx="1384.6" cy="418.06" r="6"/>
<circle cx="1409.8" cy="517.83" r="6"/>
<circle cx="1425.7" cy="617.59" r="6"/>
<circle cx="1439.8" cy="717.36" r="6"/>
<circle cx="1452.7" cy="817.12" r="6"/>
</g>
<polyline points="1129.7,19 1129.9,22.99 1130.3,26.98 1130.8,30.97 1131.5,34.96 1132.5,38.95 1134.1,42.94 1143.1,48.93 1169.3,58.91 1191.9,68.88 1213.7,78.86 1231.7,88.84 1245.8,98.81 1259.4,108.79 1272.8,118.77 1291.6,138.72 1308.8,158.67 1320.9,178.62 1328.6,198.58 1335.8,218.53 1345.5,268.41 1364,318.3 1379.4,418.06 1398.2,517.83 1415.9,617.59 1430.1,717.36 1444.2,817.12" fill="none" stroke="#4a3600" stroke-width="3.42" stroke-linejoin="round" stroke-opacity="0.65"/>
<g fill="#4a3600" fill-opacity="0.65">
<circle cx="1129.7" cy="19" r="6.25"/>
<circle cx="1129.9" cy="22.99" r="6.25"/>
<circle cx="1130.3" cy="26.98" r="6.25"/>
<circle cx="1130.8" cy="30.97" r="6.25"/>
<circle cx="1131.5" cy="34.96" r="6.25"/>
<circle cx="1132.5" cy="38.95" r="6.25"/>
<circle cx="1134.1" cy="42.94" r="6.25"/>
<circle cx="1143.1" cy="48.93" r="6.25"/>
<circle cx="1169.3" cy="58.91" r="6.25"/>
<circle cx="1191.9" cy="68.88" r="6.25"/>
<circle cx="1213.7" cy="78.86" r="6.25"/>
<circle cx="1231.7" cy="88.84" r="6.25"/>
<circle cx="1245.8" cy="98.81" r="6.25"/>
<circle cx="1259.4" cy="108.79" r="6.25"/>
<circle cx="1272.8" cy="118.77" r="6.25"/>
<circle cx="1291.6" cy="138.72" r="6.25"/>
<circle cx="1308.8" cy="158.67" r="6.25"/>
<circle cx="1320.9" cy="178.62" r="6.25"/>
<circle cx="1328.6" cy="198.58" r="6.25"/>
<circle cx="1335.8" cy="218.53" r="6.25"/>
<circle cx="1345.5" cy="268.41" r="6.25"/>
<circle cx="1364" cy="318.3" r="6.25"/>
<circle cx="1379.4" cy="418.06" r="6.25"/>
<circle cx="1398.2" cy="517.83" r="6.25"/>
<circle cx="1415.9" cy="617.59" r="6.25"/>
<circle cx="1430.1" cy="717.36" r="6.25"/>
<circle cx="1444.2" cy="817.12" r="6.25"/>
</g>
<polyline points="1129.7,19 1129.9,22.99 1130.3,26.98 1130.8,30.97 1131.5,34.96 1132.5,38.95 1134.1,42.94 1143.1,48.93 1169.3,58.91 1191.9,68.88 1213.7,78.86 1231.7,88.84 1245.8,98.81 1259.4,108.79 1272.8,118.77 1291.6,138.72 1308.8,158.67 1320.9,178.62 1328.6,198.58 1335.8,218.53 1345.5,268.41 1364,318.3 1379.4,418.06 1398.2,517.83 1415.9,617.59 1430.1,717.36 1444.2,817.12" fill="none" stroke="#ffa500" stroke-width="2.73" stroke-linejoin="round"/>
<g fill="#ffa500">
<circle cx="1129.7" cy="19" r="5.9"/>
<circle cx="1129.9" cy="22.99" r="5.9"/>
<circle cx="1130.3" cy="26.98" r="5.9"/>
<circle cx="1130.8" cy="30.97" r="5.9"/>
<circle cx="1131.5" cy="34.96" r="5.9"/>
<circle cx="1132.5" cy="38.95" r="5.9"/>
<circle cx="1134.1" cy="42.94" r="5.9"/>
<circle cx="1143.1" cy="48.93" r="5.9"/>
<circle cx="1169.3" cy="58.91" r="5.9"/>
<circle cx="1191.9" cy="68.88" r="5.9"/>
<circle cx="1213.7" cy="78.86" r="5.9"/>
<circle cx="1231.7" cy="88.84" r="5.9"/>
<circle cx="1245.8" cy="98.81" r="5.9"/>
<circle cx="1259.4" cy="108.79" r="5.9"/>
<circle cx="1272.8" cy="118.77" r="5.9"/>
<circle cx="1291.6" cy="138.72" r="5.9"/>
<circle cx="1308.8" cy="158.67" r="5.9"/>
<circle cx="1320.9" cy="178.62" r="5.9"/>
<circle cx="1328.6" cy="198.58" r="5.9"/>
<circle cx="1335.8" cy="218.53" r="5.9"/>
<circle cx="1345.5" cy="268.41" r="5.9"/>
<circle cx="1364" cy="318.3" r="5.9"/>
<circle cx="1379.4" cy="418.06" r="5.9"/>
<circle cx="1398.2" cy="517.83" r="5.9"/>
<circle cx="1415.9" cy="617.59" r="5.9"/>
<circle cx="1430.1" cy="717.36" r="5.9"/>
<circle cx="1444.2" cy="817.12" r="5.9"/>
</g>
<polyline points="1148.6,19.99 1148.8,22.07 1149,24.28 1149.3,26.62 1149.6,29.13 1149.9,31.85 1150.2,34.82 1150.6,38.1 1151,41.76 1151.6,45.87 1153.3,50.55 1183.4,55.91 1217.6,62.1 1244.5,69.3 1265.1,77.75 1282.6,87.71 1295.9,99.5 1309.5,113.53 1321.6,130.27 1330.6,150.3 1339.6,174.34 1347.8,203.22 1355,237.94 1364.5,279.72 1375.1,329.97 1386.6,390.38 1398.7,462.9 1412.8,549.83 1428.3,653.76 1446.2,777.64" fill="none" stroke="#ff00ff" stroke-width="2.83" stroke-linejoin="round"/>
<g fill="#ff00ff">
<circle cx="1148.6" cy="19.99" r="6"/>
<circle cx="1148.8" cy="22.07" r="6"/>
<circle cx="1149" cy="24.28" r="6"/>
<circle cx="1149.3" cy="26.62" r="6"/>
<circle cx="1149.6" cy="29.13" r="6"/>
<circle cx="1149.9" cy="31.85" r="6"/>
<circle cx="1150.2" cy="34.82" r="6"/>
<circle cx="1150.6" cy="38.1" r="6"/>
<circle cx="1151" cy="41.76" r="6"/>
<circle cx="1151.6" cy="45.87" r="6"/>
<circle cx="1153.3" cy="50.55" r="6"/>
<circle cx="1183.4" cy="55.91" r="6"/>
<circle cx="1217.6" cy="62.1" r="6"/>
<circle cx="1244.5" cy="69.3" r="6"/>
<circle cx="1265.1" cy="77.75" r="6"/>
<circle cx="1282.6" cy="87.71" r="6"/>
<circle cx="1295.9" cy="99.5" r="6"/>
<circle cx="1309.5" cy="113.53" r="6"/>
<circle cx="1321.6" cy="130.27" r="6"/>
<circle cx="1330.6" cy="150.3" r="6"/>
<circle cx="1339.6" cy="174.34" r="6"/>
<circle cx="1347.8" cy="203.22" r="6"/>
<circle cx="1355" cy="237.94" r="6"/>
<circle cx="1364.5" cy="279.72" r="6"/>
<circle cx="1375.1" cy="329.97" r="6"/>
<circle cx="1386.6" cy="390.38" r="6"/>
<circle cx="1398.7" cy="462.9" r="6"/>
<circle cx="1412.8" cy="549.83" r="6"/>
<circle cx="1428.3" cy="653.76" r="6"/>
<circle cx="1446.2" cy="777.64" r="6"/>
</g>
</g>
<g stroke="#000" stroke-width="1.13" fill="none">
<line x1="1138.5" y1="814.5" x2="1138.5" y2="820.5"/>
<line x1="1224.5" y1="814.5" x2="1224.5" y2="820.5"/>
<line x1="1309.5" y1="814.5" x2="1309.5" y2="820.5"/>
<line x1="1395.5" y1="814.5" x2="1395.5" y2="820.5"/>
<line x1="1072.5" y1="19.5" x2="1066.5" y2="19.5"/>
<line x1="1072.5" y1="68.5" x2="1066.5" y2="68.5"/>
<line x1="1072.5" y1="118.5" x2="1066.5" y2="118.5"/>
<line x1="1072.5" y1="168.5" x2="1066.5" y2="168.5"/>
<line x1="1072.5" y1="218.5" x2="1066.5" y2="218.5"/>
<line x1="1072.5" y1="268.5" x2="1066.5" y2="268.5"/>
<line x1="1072.5" y1="318.5" x2="1066.5" y2="318.5"/>
<line x1="1072.5" y1="368.5" x2="1066.5" y2="368.5"/>
<line x1="1072.5" y1="418.5" x2="1066.5" y2="418.5"/>
<line x1="1072.5" y1="467.5" x2="1066.5" y2="467.5"/>
<line x1="1072.5" y1="517.5" x2="1066.5" y2="517.5"/>
<line x1="1072.5" y1="567.5" x2="1066.5" y2="567.5"/>
<line x1="1072.5" y1="617.5" x2="1066.5" y2="617.5"/>
<line x1="1072.5" y1="667.5" x2="1066.5" y2="667.5"/>
<line x1="1072.5" y1="717.5" x2="1066.5" y2="717.5"/>
<line x1="1072.5" y1="767.5" x2="1066.5" y2="767.5"/>
<rect x="1072.5" y="19.5" width="402" height="795"/>
</g>
<g font-size="16.95" fill="#000">
<text transform="translate(1137.5 850.7) rotate(-45)" text-anchor="middle" y="6.2">1022</text>
<text transform="translate(1223.5 850.7) rotate(-45)" text-anchor="middle" y="6.2">1024</text>
<text transform="translate(1308.5 850.7) rotate(-45)" text-anchor="middle" y="6.2">1026</text>
<text transform="translate(1394.5 850.7) rotate(-45)" text-anchor="middle" y="6.2">1028</text>
</g>
</g>
<g font-weight="bold" font-size="22.6" fill="#000">
<text transform="translate(30.2 418.2) rotate(-90)" text-anchor="middle">Depth (m)</text>
<text x="179.0" y="871.6" textLength="182.9" lengthAdjust="spacing">Temperature (</text>
<text x="362.6" y="863.0" font-weight="normal" font-style="italic" font-size="15.8">o</text>
<text x="372.3" y="871.6" font-weight="normal" font-style="italic">C</text>
<text x="388.9" y="871.6">)</text>
<text x="780.9" y="869.6" text-anchor="middle">Salinity</text>
<text x="1272.4" y="895.6" text-anchor="middle">Density (kg m-3)</text>
</g>
<text x="341.2" y="917.6" font-style="italic" font-size="17" textLength="893.9" lengthAdjust="spacing" xml:space="preserve">Ocean Heat Content (kJ/cm^2) - Glider: 11.1131,  RTOFS: N/A,  RTOFS (Parallel): 7.9276,  CMEMS: N/A,</text>
<g font-weight="bold" font-size="22.6" fill="#000">
<text x="1524.0" y="36.8">Comparison Date: 2025-07-10</text>
<text x="1524.0" y="89.7">Glider: sp071</text>
<text x="1524.0" y="116.4">Profiles: 3</text>
<text x="1524.0" y="143">First: 2025-07-10 04:12:30</text>
<text x="1524.0" y="169.6">Last: 2025-07-10 14:40:00</text>
<text x="1524.0" y="196.3">Method: Nearest-Neighbor</text>
</g>
<g id="map">
<clipPath id="mclip"><rect x="1563.5" y="249.5" width="403" height="335"/></clipPath>
<g clip-path="url(#mclip)">
<rect x="1563.5" y="249.5" width="403" height="335" fill="#97b6e1"/>
<path d="M1558.5 244.5 L1791.82 244.5 L1791.82 248.84 L1791.13 249.23 L1790.14 249.08 L1789.06 249.51 L1788.03 250.41 L1786.97 250.77 L1786.05 251.03 L1784.38 251.11 L1783.73 251.69 L1782.02 251.6 L1781.26 251.97 L1780.21 252.4 L1779.53 253.55 L1779.57 254.92 L1778.45 256.08 L1777.95 257.01 L1776.96 257.58 L1776.01 258 L1774.97 259.05 L1773.39 258.88 L1772.29 259.79 L1771.21 260.05 L1769.74 260.42 L1768.76 260.96 L1767.41 260.79 L1766.6 260.64 L1765.53 260.47 L1764.09 261.27 L1763.58 262.24 L1762.66 263.13 L1761.26 263.11 L1760.38 263.62 L1759.55 264.71 L1758.99 265.62 L1757.98 266.65 L1757.84 267.67 L1757.16 268.78 L1755.65 269.03 L1755.06 269.5 L1754.67 271.02 L1754.65 272.24 L1753.87 273.08 L1752.74 274.47 L1751.89 274.93 L1750.34 275.58 L1749.53 276.21 L1748.92 277.5 L1748.26 278.64 L1748.6 279.8 L1747.98 281.25 L1747.05 281.64 L1747.34 283.16 L1746.68 284.33 L1745.89 285.1 L1745.87 286.4 L1744.91 287.13 L1743.74 287.72 L1743.7 288.85 L1743.21 289.52 L1742.35 290.88 L1741.93 291.96 L1742.04 292.99 L1742.18 294.38 L1742.06 295.24 L1741.44 296.4 L1741.63 297.45 L1742.28 298.6 L1742.14 299.98 L1741.96 299.03 L1742.62 299.15 L1743.8 299.23 L1744.68 299.87 L1746.04 301 L1746.81 301.14 L1747.75 301.1 L1748.6 301.99 L1747.79 302.66 L1747.57 304.57 L1746.69 304.77 L1745.74 305.31 L1744.17 306.11 L1743.08 306.2 L1742.44 307.14 L1741.49 308.19 L1740.28 308.55 L1739.67 309.16 L1738.31 309.84 L1737.65 310.44 L1737 311.14 L1736.76 312.12 L1736.29 312.65 L1735.75 313.74 L1734.55 314.3 L1734.52 315.3 L1735.15 316.52 L1735.73 316.99 L1737.04 316.85 L1738.21 317.05 L1739.71 317.79 L1740.42 318.09 L1741.56 317.86 L1742.42 317.48 L1742.73 319.05 L1743.49 319.74 L1744.67 320.56 L1745.42 321.47 L1745.37 322.68 L1746.77 323.52 L1746.49 324.15 L1747.42 324.91 L1747.13 326.39 L1746.28 327.33 L1744.94 327.44 L1746.03 328.56 L1746.55 329.36 L1747.34 330.72 L1748.67 330.78 L1749.6 331.18 L1749.2 331.98 L1750.12 332.8 L1750.23 333.96 L1750.98 334.41 L1752 335.21 L1752.25 335.99 L1753.68 336.37 L1754.96 336.36 L1755.95 336.6 L1756.88 336.74 L1758.03 336.41 L1759.27 335.44 L1760.21 335.34 L1761.48 335.44 L1762.42 334.8 L1763.71 334.62 L1762.84 333.79 L1762.81 332.97 L1762.96 331.78 L1762.64 330.47 L1762.85 329.4 L1762.17 328.27 L1760.97 327.5 L1759.97 326.88 L1758.71 326.03 L1757.75 325.24 L1758.86 325.22 L1759.5 323.87 L1759.97 324.53 L1761.2 323.82 L1761.99 324.17 L1763.48 324.9 L1763.96 326.46 L1765.16 326.83 L1765.12 327.65 L1765.55 329.09 L1766.7 329.61 L1766.76 330.37 L1766.35 331.75 L1767.46 332.42 L1767.21 333.5 L1767.55 334.52 L1767.15 335.6 L1767.36 337.09 L1768 338.26 L1767.36 339.61 L1767.47 341.1 L1766.3 341.88 L1766.86 342.8 L1766.17 344.07 L1765.83 344.53 L1764.83 345.47 L1765.23 344.18 L1764.27 342.69 L1764.62 341.6 L1764.2 340.98 L1765.05 339.91 L1764.78 338.6 L1763.68 338.94 L1762.7 339.77 L1761.64 339.97 L1760.81 339.61 L1759.39 340.19 L1758.91 340.81 L1757.65 341.09 L1756.73 341.8 L1755.8 342.65 L1754.55 342.93 L1753.25 342.98 L1752.39 343.75 L1751.49 344.28 L1750.47 344.74 L1748.92 344.64 L1748.04 345.39 L1746.98 345.04 L1745.85 345.8 L1745.58 344.58 L1745.26 343.62 L1745.18 342.12 L1745.54 341.22 L1746.35 340.58 L1746.49 339.66 L1746.23 338.74 L1746.57 337.45 L1747.11 336.94 L1746.12 337.27 L1745.28 336.33 L1744.59 336.87 L1743.95 337.84 L1743.38 338.88 L1742.24 339.89 L1741.1 339.57 L1740.32 340.94 L1739.61 341.05 L1739.26 342.09 L1738.1 342.45 L1737.63 343.39 L1736.94 343.91 L1736.07 344.9 L1735.34 345.52 L1734.02 345.94 L1732.8 345.5 L1731.67 345.11 L1732.15 343.93 L1731.86 343.08 L1732.69 342.14 L1732.56 340.68 L1732.23 339.37 L1731.99 338.51 L1731.08 337.85 L1729.99 337.77 L1729.46 336.63 L1728.79 335.65 L1727.71 335.13 L1726.99 334.4 L1726.2 334.22 L1725.76 335.08 L1724.91 336.27 L1723.87 336.81 L1723.63 337.99 L1723.71 338.74 L1723.14 340.26 L1723.37 341.31 L1723.19 342.15 L1723.1 343.38 L1724.07 344.32 L1723.46 345.48 L1723.87 346.97 L1724.61 347.67 L1725.42 348.88 L1724.16 349.28 L1723.57 349.91 L1722.75 350.96 L1721.44 350.88 L1720.53 351.32 L1719.4 352.23 L1717.84 351.87 L1716.97 352.21 L1715.71 352.53 L1714.74 352.79 L1713.47 352.81 L1711.87 352.64 L1711.17 353.89 L1709.61 353.11 L1708.96 353.64 L1707.43 353.91 L1706.58 354.29 L1705.52 354.57 L1704.47 353.77 L1703.16 354.17 L1701.92 354.31 L1700.83 355.31 L1700.18 355.11 L1698.7 355.88 L1697.48 355.48 L1696.22 355.99 L1694.63 355.96 L1693.42 356.11 L1692.63 355.36 L1691.1 355.1 L1690.14 355.33 L1688.97 355.57 L1687.85 354.7 L1686.81 355.27 L1685.87 355.36 L1684.25 355.37 L1683.08 355 L1682.34 354.95 L1681.3 354.51 L1679.86 355.18 L1678.64 355.02 L1677.64 355.77 L1676.76 356.08 L1675.9 356.34 L1674.54 356.84 L1673.29 357.28 L1672.69 358.1 L1671.35 358.11 L1670.13 358.85 L1668.81 359.6 L1667.6 359.21 L1666.54 360.05 L1665.35 360.65 L1664.39 361.28 L1663.11 362.2 L1662.31 362.26 L1660.67 362.63 L1660.4 363.42 L1659.48 364.05 L1658.98 363.79 L1658.75 364.69 L1657.71 366.01 L1657.1 366.81 L1656.85 368.16 L1656.14 368.95 L1655.58 369.98 L1654.06 369.9 L1653.37 371.29 L1652.59 371.78 L1651.92 372.86 L1650.79 373.51 L1649.26 373.83 L1648.77 374.32 L1648.1 376.08 L1646.82 376.1 L1646.32 376.81 L1645.44 378.24 L1644.36 378.72 L1643.75 379.18 L1643.66 380.47 L1642.77 381.56 L1641.79 382.31 L1641.56 383.47 L1641.26 384.43 L1642.69 384.91 L1643.55 385.97 L1643.96 386.84 L1645.26 386.75 L1646.52 387.77 L1647.44 387.68 L1648.39 387.21 L1648.83 386.54 L1649.58 386.05 L1650.29 386.69 L1649.89 388.01 L1650.26 388.86 L1651.09 389.52 L1650.27 390.86 L1650.93 391.71 L1650.45 393.19 L1650.4 394.09 L1649.98 395.59 L1650.02 396.36 L1649.31 397.65 L1648.49 398.49 L1647.74 399.87 L1647.7 400.85 L1646.76 401.98 L1646.6 403.22 L1646.84 404.96 L1646.23 406.25 L1646.37 407.01 L1646.89 408.34 L1646.58 409.97 L1647.08 410.82 L1646.7 412.3 L1646.57 412.81 L1646.16 414.03 L1644.69 414.89 L1644.58 416.09 L1643.76 416.3 L1643.51 418 L1642.63 418 L1641.86 419.07 L1641.37 420.06 L1640.84 420.82 L1639.71 421.34 L1638.52 421.11 L1637.77 421.94 L1638.7 422.9 L1638.85 423.82 L1639.99 424.07 L1638.96 425.35 L1638.52 426.09 L1637.24 426.18 L1636.49 427.75 L1635.69 427.94 L1635.24 429.16 L1633.87 429.77 L1633.1 431.19 L1633.01 432.16 L1631.58 432.89 L1631.38 434.31 L1630.91 435.21 L1630.36 436.72 L1628.78 437.11 L1628.52 438.02 L1628.09 439.45 L1626.53 440.02 L1626.62 441 L1625.74 441.94 L1624.83 441.61 L1623.6 442.08 L1622.68 442.52 L1622.9 441.77 L1622.44 440.85 L1622.7 440.03 L1622.91 438.43 L1623.37 437.75 L1623.92 436.31 L1625.07 435.27 L1624.41 434.32 L1623.56 434.52 L1622.74 433.57 L1621.81 433.04 L1620.63 433.47 L1619.4 432.85 L1618.18 432.55 L1617.46 432.68 L1616.71 431.64 L1615.57 430.96 L1614.9 430 L1613.71 429.38 L1612.29 428.87 L1611.85 428.03 L1610.4 427.45 L1609.87 427 L1608.73 426.19 L1608.54 425.26 L1607 424.47 L1606.49 423.25 L1605.48 423.07 L1605.02 422.05 L1605.56 420.74 L1605.63 419.61 L1605.31 418.39 L1604.49 417.13 L1605.62 416.91 L1606.19 415.52 L1606.44 414.47 L1607.21 413.77 L1608.09 412.69 L1609.06 412.4 L1609.37 411.01 L1610.58 410.75 L1609.6 410.46 L1608.37 410.97 L1608.4 412.22 L1607.13 413 L1606.38 413.52 L1605.79 414.97 L1605.01 415.47 L1604.15 416.74 L1603.48 417.36 L1603.78 418.42 L1603.42 420.08 L1604.04 420.76 L1603.86 421.69 L1604.95 422.8 L1604.56 423.72 L1605.36 424.5 L1605.68 425.05 L1606.89 425.76 L1607.05 427.23 L1607.88 427.72 L1608.18 428.79 L1608.75 429.64 L1608.8 431.21 L1609.54 431.87 L1609.19 433.46 L1609.87 433.88 L1609.62 435.61 L1610.29 436 L1610.08 437.38 L1610.69 438.5 L1610.95 439.43 L1611.54 440.51 L1612.65 441.7 L1612.75 442.53 L1614.06 443.23 L1614.69 444.36 L1615.85 444.85 L1616.61 446.4 L1617.74 446.16 L1618.01 447.26 L1619.06 447.62 L1619.47 448.81 L1619.64 449.85 L1620.1 451.15 L1619.98 452.35 L1619.83 453.35 L1620.18 454.65 L1619.51 455.48 L1619.19 456.92 L1619.51 457.7 L1619.63 458.79 L1620.2 460.06 L1620.39 461.19 L1620.01 462.15 L1619.56 463.26 L1618.88 464.74 L1618.86 465.56 L1618.38 466.88 L1617.8 467.8 L1616.7 469.15 L1616.18 470.2 L1615.95 471.7 L1614.95 472.55 L1614.1 472.86 L1613.26 474.31 L1613.46 475.52 L1612.14 475.93 L1611.49 477.05 L1610.67 477.94 L1610.01 479.6 L1609.82 480.53 L1608.8 481.43 L1608.75 482.55 L1607.81 483.74 L1606.73 484.27 L1606.72 485.44 L1606.06 486.08 L1606.69 485.27 L1607.48 484.33 L1606.57 485.53 L1606.48 486.98 L1605.51 487.51 L1604.8 488.48 L1604.26 489.84 L1604.11 491.17 L1603.69 491.87 L1602.92 492.71 L1602.32 493.85 L1601.87 495.4 L1601.59 496.33 L1601.52 497.24 L1601.32 498.63 L1600.14 499.71 L1599.68 501.19 L1599.78 502.16 L1598.88 503.04 L1598.84 504.54 L1598.16 505.47 L1597.4 506.51 L1596.57 507.08 L1595.97 508.24 L1595.27 509.49 L1594.72 509.79 L1593.6 510.6 L1593.18 514.65 L1593.34 516.03 L1593.93 517.04 L1594.54 518.32 L1594.57 519.56 L1595.04 521.03 L1595.44 522.58 L1596.37 523.9 L1596.83 525.22 L1597.04 526.58 L1597.56 528.11 L1597.86 529.45 L1597.57 530.85 L1598.21 532.34 L1598.49 533.66 L1598.63 534.87 L1599.28 536.12 L1599.84 537.55 L1599.75 538.91 L1600.39 540.17 L1600.68 541.33 L1601.25 542.5 L1602.04 543.44 L1602.6 544.6 L1603.15 546.02 L1603.6 547.46 L1604.12 548.65 L1604.81 550 L1605.28 551.43 L1606.18 552.68 L1606.48 554.01 L1606.78 555.25 L1607.58 556.46 L1607.8 558.03 L1608.16 559.13 L1608.64 560.38 L1608.93 562.11 L1608.73 563.64 L1608.75 565.32 L1608.89 566.87 L1608.5 568.27 L1608.41 569.67 L1608.11 570.94 L1607.95 572.47 L1607.88 573.77 L1607.65 574.68 L1607.25 576.1 L1605.91 575.88 L1604.54 575.88 L1603.05 575.34 L1601.55 575.99 L1600.34 576.98 L1598.78 577.52 L1597.28 578.06 L1596.03 579.07 L1594.36 579.33 L1593.37 580.37 L1591.94 580.93 L1590.38 581.88 L1589.28 583.04 L1588.26 584.02 L1588.23 589.5 L1558.5 589.5 Z" fill="#d2b48c"/>
<g fill="#b4b4b4">
<path d="M1563.48 248.84 L1590.71 248.84 L1588.23 252.73 L1584.7 254.85 L1586.82 258.38 L1587.17 263.33 L1585.4 266.87 L1579.04 268.99 L1574.09 271.82 L1569.14 275.35 L1564.19 278.54 L1563.48 278.54 Z"/>
<path d="M1590 278.75 L1592.47 278.18 L1596.72 278.75 L1600.25 279.95 L1600.68 280.87 L1598.13 281.72 L1594.24 281.58 L1591.06 280.3 Z"/>
<path d="M1723.59 261.21 L1726.06 260.15 L1728.18 262.63 L1729.6 265.1 L1730.3 267.93 L1728.54 267.22 L1726.77 264.75 L1724.65 264.39 Z"/>
<path d="M1747.63 252.37 L1750.1 253.08 L1751.66 255.2 L1750.45 257.68 L1748.69 255.2 Z"/>
</g>
<g fill="none" stroke="#b4b4b4" stroke-width="1.1" stroke-linecap="round" stroke-opacity="0.8">
<polyline points="1580.81,290.91 1582.93,294.44 1584.7,296.57"/>
<polyline points="1577.27,292.32 1578.33,295.15 1579.39,297.27"/>
<polyline points="1571.62,293.74 1571.83,300.1 1574.8,305.05"/>
<polyline points="1567.02,302.22 1567.37,305.97"/>
<polyline points="1567.37,301.41 1567.73,310.96"/>
<polyline points="1572.68,300 1575.51,304.95 1577.98,308.13"/>
</g>
<g fill="none" stroke="#97b6e1" stroke-width="1.9" stroke-linejoin="round" stroke-linecap="round">
<polyline points="1578.33,270.4 1581.87,276.77 1585.4,281.01 1586.11,282.42 1581.87,281.72 1578.33,284.55 1573.38,285.25 1571.26,289.49 1566.31,293.03 1564.9,296.57 1565.61,301.52 1563.84,302.22"/>
<polyline points="1607.68,270.4 1608.03,273.23 1610.86,274.65 1608.74,278.18 1609.44,281.01 1615.1,283.84 1621.46,287.02 1625.71,286.31 1631.36,288.79 1633.48,291.97 1636.31,292.32 1643.38,289.85 1646.92,291.62 1651.87,294.8 1655.4,296.21 1658.94,295.86"/>
<polyline points="1649.04,249.55 1645.51,252.02 1645.51,255.2 1649.04,257.68 1652.93,261.21 1654.7,265.45 1656.11,268.64 1653.99,271.11 1653.99,275.35 1655.4,278.54 1661.06,276.77 1662.12,281.01 1662.12,285.96 1660.35,290.91 1658.94,295.86 1658.23,301.52 1656.82,305.97"/>
<polyline points="1624.65,295.86 1622.88,300.81 1623.23,305.97"/>
<polyline points="1622.88,300 1623.59,304.24 1621.46,308.48 1615.1,312.02 1608.03,315.56 1604.49,319.09 1603.08,322.63 1603.79,326.87 1603.79,328.99 1599.55,328.28 1598.13,324.04 1593.18,322.63 1588.94,324.04 1584.7,323.33 1579.75,326.16 1577.98,330.4 1579.04,333.94 1583.28,337.47 1591.06,341.72 1595.3,345.96 1599.19,350.91 1598.84,354.44 1594.6,357.27 1588.94,360.1 1588.23,362.22 1581.87,365.05 1579.04,365.97"/>
<polyline points="1632.42,311.31 1625.71,314.14 1621.46,319.09 1617.22,321.21 1613.69,323.33 1609.44,325.1"/>
<polyline points="1658.23,300 1656.82,307.07 1656.82,314.14 1653.99,318.38 1651.87,324.04 1651.52,331.82 1652.22,336.77 1650.45,345.96 1651.16,353.74"/>
<polyline points="1693.59,300 1691.11,304.95 1689.7,314.14 1690.05,321.21 1689.34,328.28 1688.64,336.77 1689.34,342.42 1692.88,347.37 1695.71,349.49"/>
<polyline points="1563.84,355.86 1568.43,356.57 1570.2,357.98 1568.08,360.1 1567.73,365.97"/>
<polyline points="1563.48,300.71 1566.31,300"/>
<polyline points="1716.87,248.84 1717.58,257.68 1717.22,263.33 1715.45,265.81 1717.22,269.7 1719.7,276.06 1722.53,281.72 1723.94,285.25 1722.88,290.91 1723.23,295.86 1724.65,300.1 1726.77,302.58 1731.01,301.52 1735.25,297.27 1739.49,295.15"/>
<polyline points="1694.24,278.18 1693.18,285.25 1692.12,289.49"/>
<polyline points="1694.24,299.39 1692.83,305.97"/>
<polyline points="1690,300 1691.41,307.07 1690.71,321.21 1690,328.28 1690,342.42 1694.24,348.08 1697.07,351.26"/>
<polyline points="1689.6,340 1689.24,343.18 1692.42,346.36 1696.67,351.31"/>
<polyline points="1579.04,359.65 1572.68,362.12 1567.37,360"/>
<polyline points="1567.37,360 1568.08,364.24 1569.85,369.19 1568.79,374.14 1566.31,378.38 1564.55,383.33 1564.9,388.99 1567.37,392.53 1571.97,396.77 1576.92,401.01 1580.45,405.25 1583.28,409.49 1587.53,413.74 1591.06,418.69"/>
<polyline points="1569.85,369.19 1574.8,367.42 1578.33,367.07 1583.28,363.89 1588.94,362.12 1589.65,360"/>
<polyline points="1581.87,365.05 1585.4,363.64 1589.65,365.97"/>
<polyline points="1564.19,552.63 1566.31,552.06 1568.43,554.18 1571.26,552.77 1573.74,550.51"/>
</g>
<g fill="none" stroke="#000" stroke-width="1.6" stroke-linejoin="round">
<polyline points="1666.36,248.84 1668.13,254.14 1668.13,260.51 1666.72,264.75 1668.84,264.75 1671.67,266.87 1672.02,275.35 1671.67,289.49 1670.96,296.57 1671.67,298.33 1670.96,300 1664.24,324.39 1663.89,356.57 1665.3,357.27 1658.94,361.52 1659.65,363.64"/>
<polyline points="1671.67,298.33 1695,299.04 1693.54,298.69 1726.77,300.24 1729.6,298.69 1733.84,295.15 1738.08,293.03 1741.26,292.68"/>
<polyline points="1704.85,248.84 1702.73,254.14 1699.9,259.09 1697.07,265.45 1696.01,270.4 1695.66,278.18 1694.24,285.25 1692.12,291.62 1691.41,295.15 1693.54,298.69"/>
<polyline points="1735.96,248.84 1736.31,257.68 1737.23,271.11 1738.79,276.77 1740.91,279.6 1742.32,283.13 1744.09,285.25 1745.86,285.25"/>
<polyline points="1664.24,324.39 1684.39,326.87 1695,326.52 1690,326.52 1713.69,326.87 1725.35,326.73 1725.71,330.4 1726.77,333.23"/>
<polyline points="1713.69,326.87 1713.33,352.32"/>
<polyline points="1563.48,327.22 1610.86,327.08 1612.98,328.28 1614.39,331.11 1617.22,332.88 1619.34,335.35 1620.05,339.6 1620.05,343.13 1622.17,346.67 1625.71,348.79 1629.24,349.85 1630.3,351.97"/>
<polyline points="1630.3,351.97 1652.58,365.97 1652.93,366.01 1656.11,367.78"/>
<polyline points="1630.3,351.97 1627.12,353.74 1625,357.98 1621.46,362.93 1617.93,365.97 1624.65,360 1621.46,362.83 1617.93,365.66 1618.64,369.19 1619.7,371.31 1617.22,374.14 1615.81,377.68 1616.52,381.21 1619.34,383.33 1621.46,387.58 1625.71,391.82 1629.6,396.77 1625,400.3 1619.7,403.48"/>
<polyline points="1563.84,413.38 1598.84,413.38 1600.25,410.91 1603.08,409.14 1607.32,408.79 1610.51,410.56"/>
<polyline points="1598.98,413.38 1599.4,425.97 1599.19,420 1601.31,460.3 1618.64,459.6"/>
<polyline points="1600.96,477.27 1608.74,476.21"/>
<polyline points="1564.19,528.43 1591.06,528.43"/>
<polyline points="1564.19,442.06 1566.67,444.39 1564.19,446.73"/>
</g>
<polyline points="1578.62,249.05 1569.78,263.9 1563.48,264.32" fill="none" stroke="#000" stroke-width="1.8" stroke-dasharray="4.4 1.9"/>
<g fill="#97b6e1" stroke="#000" stroke-width="1.5" stroke-linejoin="round">
<path d="M1591.77 418.55 L1588.23 420.81 L1585.4 424.24 L1582.93 429.19 L1581.02 434.14 L1581.3 441.21 L1579.89 448.28 L1578.9 453.94 L1579.75 458.18 L1582.43 462.42 L1583.28 468.08 L1584.7 473.74 L1586.11 478.69 L1586.82 483.64 L1585.55 481.41 L1584.84 487.07 L1586.11 494.14 L1584.7 501.21 L1583.28 504.04 L1586.11 508.28 L1586.25 512.67 L1593.18 514.65 L1593.54 510.4 L1591.77 503.33 L1593.18 496.26 L1595.3 489.19 L1598.84 484.24 L1602.37 480 L1600.25 483.64 L1598.84 477.98 L1597.42 473.74 L1594.6 469.49 L1588.94 465.25 L1585.4 462.42 L1583.28 458.18 L1588.94 455.35 L1594.6 453.23 L1593.18 451.11 L1588.23 449.7 L1584.7 444.75 L1586.11 437.68 L1585.55 434.14 L1588.23 429.19 L1593.18 424.24 L1597.42 421.66 L1594.74 418.83 Z" stroke="none"/>
<path d="M1571.4 544.49 L1572.12 545.22 L1571.96 546.58 L1572.73 547.62 L1573.53 546.72 L1575.03 546.26 L1576.11 545.9 L1577.28 545.31 L1577.94 544.31 L1577.94 543 L1579.11 542.25 L1580.36 542.61 L1581.25 543.07 L1582.34 543.51 L1583.46 542.68 L1583.49 541.16 L1585.05 540.2 L1584.99 538.92 L1586.19 538 L1587.33 538.48 L1588.45 539.32 L1589.6 539.9 L1590.27 540.46 L1591.41 540.06 L1592.06 538.84 L1593.19 538.26 L1593.99 539.57 L1594.73 540.22 L1595.76 540.92 L1596.15 542.01 L1597.14 542.67 L1598.31 543.6 L1598.5 545.2 L1599.75 546.22 L1600.47 547.09 L1601.02 548.49 L1601.5 549.58 L1602.45 550.2 L1603.46 551.29 L1603.72 552.53 L1604.58 553.23 L1603.36 553.18 L1602.43 553.94 L1601.42 553.52 L1600.36 553.08 L1599.79 551.64 L1598.83 551.37 L1598.06 550.35 L1597.54 549.35 L1596.25 549.19 L1594.81 548.28 L1593.28 548.65 L1592.53 548.93 L1591.27 548.05 L1590.38 548.44 L1589.19 549.19 L1588.25 549.57 L1587.07 549.63 L1585.53 550.08 L1584.4 550.11 L1583.28 550.59 L1581.95 550.88 L1580.68 550.48 L1579.64 549.87 L1578.21 550.11 L1577.4 550.18 L1576.03 549.81 L1575.06 549.71 L1574.01 549.79 L1573.13 549.13 L1571.88 548.56 L1571.39 547.28 L1571.85 545.69 Z"/>
<path d="M1601.31 553.69 L1602.35 553.53 L1603.41 553.53 L1604.62 553.36 L1605.32 554.56 L1605.6 555.92 L1606.47 557.28 L1607.3 558.31 L1607.79 559.74 L1607.51 561.14 L1608.12 562.53 L1607.95 564.01 L1608.07 565.4 L1608.09 566.78 L1607.95 568.32 L1607.84 569.68 L1607.48 571.1 L1607.24 572.58 L1606.94 573.73 L1606.53 575.23 L1605.3 575.31 L1604.14 574.82 L1603.14 574.6 L1601.67 575.4 L1600.13 575.65 L1598.83 576.75 L1597.51 577.22 L1596.03 578.17 L1594.48 578.5 L1593.17 579.38 L1591.68 580.18 L1590.61 581.14 L1589.21 581.95 L1588.28 583 L1587.24 584 L1585.67 583.89 L1584.15 583.88 L1582.61 584.16 L1581.08 584.13 L1579.37 584.39 L1577.97 584.22 L1576.35 584.21 L1574.76 584.11 L1575.34 583.11 L1576.02 581.98 L1576.15 580.78 L1577.17 579.72 L1577.49 578.24 L1578.33 577.36 L1579.01 575.78 L1579.3 574.63 L1579.28 573.22 L1580.74 572.72 L1581.86 572.58 L1583.38 572.5 L1584.61 572.07 L1585.85 572.2 L1587.12 572.09 L1588.34 571.92 L1589.41 570.76 L1590.77 569.99 L1592.01 569 L1593.13 568.23 L1594.05 567.08 L1595.2 566.15 L1596.27 565.06 L1597.42 563.94 L1598.21 562.8 L1598.65 561.57 L1599.54 560.73 L1600.34 559.64 L1600.44 558.21 L1601.03 556.87 L1601.13 555.17 Z"/>
</g>
<polyline points="1591.77,418.55 1590.09,419.24 1589.21,420.55 1588.24,420.8 1587,421.17 1585.97,422.93 1585.28,424.57 1585.01,425.56 1584.02,426.91 1584.04,428.13 1582.96,429.26 1581.97,430.04 1581.46,431.37 1581.57,432.71 1580.86,434.54 1580.81,435.83 1581.43,436.79 1581.55,438.45 1581.01,440.06 1581.64,441.4 1580.33,442.53 1581.57,444.02 1581.38,445.35 1579.41,446.81 1579.73,448.51 1578.9,449.67 1579.17,451.19 1578.78,452.55 1578.82,453.66 1578.88,455.38 1578.93,456.51 1579.89,457.73 1580.2,459.82 1580.79,460.35 1581.41,461.89 1582.28,462.26 1582.98,463.71 1583.17,465.14 1582.87,467.09 1583.61,468.09 1584.36,468.96 1583.46,471.11 1583.6,472.46 1585.01,473.56 1585,475.4 1584.57,476.43 1585.81,477.06 1585.94,478.47 1586.85,479.41 1587.37,481.2 1587.38,482.72 1587.16,483.93 1585.82,483.23 1585.8,481.53 1584.99,482.49 1585.97,484.59 1584.6,485.92 1584.72,486.68 1584.9,488.71 1585.49,490.27 1586.11,491.65 1585.39,492.36 1586.48,494.21 1585.34,495.07 1585.84,497.24 1585.79,498.82 1585.08,499.41 1584.78,501.29 1584.25,502.35 1584.2,503.62 1583.31,504.2 1583.75,505.17 1585.01,506.26 1584.88,507.88 1585.97,508.15 1586.96,510.14 1585.85,511.51 1586.37,512.76 1587.69,513.97 1588.81,513.59 1590.78,513.83 1592.01,514.09 1593.5,514.82" fill="none" stroke="#000" stroke-width="1.5" stroke-linejoin="round" stroke-linecap="round"/>
<polyline points="1593.54,510.4 1593.77,509.04 1592.01,508 1592.32,506.12 1592.59,504.27 1591.38,503.12 1592.67,501.7 1592.42,500.73 1593.29,498.94 1593.3,497.37 1593,496.6 1593.77,494.62 1593.58,493.06 1595.13,492.47 1595.11,490.51 1595.2,489.44 1595.78,487.76 1597.12,487.54 1596.98,485.56 1598.39,485.71 1599.09,483.98 1600.27,483.61 1600.62,482.03 1600.88,480.91 1602.31,479.71 1601.85,481.39 1601.1,482.53 1600.67,483.41 1600.79,482.12 1598.83,480.87 1599.77,479.57 1598.94,478.1 1598.54,476.96 1596.96,475 1597.67,473.67 1596.93,472.79 1596.47,471.39 1595.84,469.91 1594.56,469.02 1593.54,469.25 1592.24,468.4 1591.08,467.79 1589.87,465.82 1588.6,465.03 1588.82,464.21 1587.35,463.75 1585.53,463.4 1585.25,462.52 1584.91,460.88 1584.66,460.25 1583.86,459.56 1583.38,457.63 1583.82,457.35 1585.23,456.71 1587.33,456.97 1587.71,456.64 1589.2,455.45 1590.57,455.02 1590.62,453.87 1592.87,454.37 1593.41,454.02 1594.84,453.21 1593.39,452.7 1593.22,451.49 1592.22,450.87 1590.88,450.95 1589.98,449.87 1588.54,449.62 1586.62,448.88 1586.18,447.69 1586.45,446.06 1584.91,446.16 1584.24,444.6 1585.61,443.34 1585.15,442.05 1586.11,440.64 1585.99,439.45 1585.84,438.03 1586.3,436.39 1585.05,435.09 1585.4,434.24 1585.58,432.79 1587.36,432.09 1587.03,430.15 1588.29,428.81 1589.03,427.4 1589.9,426.39 1591.23,426.62 1592.03,425.34 1592.87,424.31 1594.49,423.16 1596.09,423.52 1595.82,421.78 1597.23,422.11 1596.95,420.57 1596.56,419.5 1595,418.78" fill="none" stroke="#000" stroke-width="1.5" stroke-linejoin="round" stroke-linecap="round"/>
<polyline points="1591.06,528.79 1591.91,529.42 1591.2,531.45 1592.65,532.29 1592.12,533.58 1592.74,534.57 1594.16,535.82 1593.6,536.85 1594.7,537.51 1594.99,539.2 1595.97,539.83 1596.19,541.63 1596.39,542.82 1597.44,543.19 1597.23,544.76 1597.42,545.55 1597.88,546.87 1598.26,548.6 1599.01,548.69 1599.05,550.46 1599.92,551.14" fill="none" stroke="#000" stroke-width="2.2" stroke-linejoin="round" stroke-linecap="round"/>
<polyline points="1591.77,550.15 1592.88,551.25 1592.81,551.9 1593.3,553.37 1593.68,554.78 1592.56,555.73 1592.33,557.13 1591.4,558.32 1592.19,559.44 1591.83,560.63" fill="none" stroke="#000" stroke-width="3.4" stroke-linejoin="round" stroke-linecap="round"/>
<polyline points="1561.72,566.06 1563.58,566 1563.87,567.87 1565.45,567.68 1566.24,568.07 1567.34,569.39 1568.9,568.89 1570.43,568.09 1570.91,567.41 1572.77,567.83 1574.01,566.42 1575.34,566.42 1576.25,566.29 1577.91,565.52 1578.79,565.53 1579.05,567.23 1579.67,567.81 1579.23,568.82 1577.62,569.67 1577.44,570.84 1576.34,570.68 1577.24,572.18 1578.12,571.74 1578.95,572.65" fill="none" stroke="#000" stroke-width="3" stroke-linejoin="round" stroke-linecap="round"/>
<polyline points="1564.19,462.42 1565.29,463.5 1565.12,464.39 1566.58,464.67 1567.33,466.27 1568.27,467.1 1569.34,467.59 1570.75,466.71 1571.58,468.85 1572.69,468.24 1573.59,469.15 1574.57,469.44 1576.13,470.02 1577.3,469.78 1578.4,471.67 1579.24,472.78 1580.8,473.51 1581.32,474 1583.05,474.41 1583.49,475.38 1584.6,476.69 1584.86,477.13" fill="none" stroke="#000" stroke-width="4.29" stroke-linejoin="round" stroke-linecap="round"/>
<polyline points="1578.33,465.25 1579.69,465.29 1580.97,465.57 1581.86,463.86 1582.77,462.89" fill="none" stroke="#000" stroke-width="2.34" stroke-linejoin="round" stroke-linecap="round"/>
<polyline points="1566.31,477.27 1566.77,478.75 1568.54,478.63 1569,479.66 1570.46,479.94 1571.29,481.35 1572.23,481.98 1573.53,482.82 1573.44,484.68 1574.66,485.27 1575.8,485.96" fill="none" stroke="#000" stroke-width="2.65" stroke-linejoin="round" stroke-linecap="round"/>
<polyline points="1568.43,480 1569.68,480.67 1570.66,481.57 1571.95,481.71 1573.42,482.4 1574.5,483.39 1575.58,483.87 1575.74,485.54 1577.19,486.42 1578.74,487.51 1579.31,488.57 1580.16,488.29 1581.2,490.14 1582.97,489.31 1584.2,490.65" fill="none" stroke="#000" stroke-width="3.43" stroke-linejoin="round" stroke-linecap="round"/>
<polyline points="1569.14,493.43 1570.48,493.68 1570.87,496.08 1572.63,495.7 1573.68,497.11 1574.54,498.51 1575.37,499.27 1576.42,500.61 1577.28,501.52 1578.46,502.77 1579.3,503.3 1580.26,504.26 1582,504.75 1583.67,504.9" fill="none" stroke="#000" stroke-width="2.65" stroke-linejoin="round" stroke-linecap="round"/>
<polyline points="1564.19,503.33 1565.32,503.79 1566.85,504.62 1567.75,504.55 1569.11,504.71 1570.05,505.58 1571.74,505.65 1572.79,506.09 1574.3,507.18 1575.04,507.82 1576.35,508.32 1577.56,509.44 1577.68,510.67 1578.71,511.92 1580.01,513.21 1580.48,513.77 1582.6,514.04 1583.14,514.13 1584.72,514.41 1586.42,514.17" fill="none" stroke="#000" stroke-width="3.59" stroke-linejoin="round" stroke-linecap="round"/>
<polyline points="1577.63,516.77 1579,516.16 1579.54,515.84 1580.42,515.51 1581.7,515.69 1583.06,516.35 1583.52,517.23 1584.73,517.16" fill="none" stroke="#000" stroke-width="2.81" stroke-linejoin="round" stroke-linecap="round"/>
<polyline points="1579.75,496.26 1581.07,496.84 1582.33,497.96 1583.1,498.66 1583.9,499.38 1583.37,500.54 1584.81,501.47" fill="none" stroke="#000" stroke-width="3.12" stroke-linejoin="round" stroke-linecap="round"/>
<polyline points="1581.87,484.24 1582.83,485.05 1582.12,487.19 1583.13,487.46 1583.16,489.38 1583.86,490.76 1584.41,491.35" fill="none" stroke="#000" stroke-width="2.34" stroke-linejoin="round" stroke-linecap="round"/>
<polyline points="1564.55,464.19 1565.88,464.55 1566.66,466.1 1567.67,466.66 1568.85,467.77 1570.5,467.94 1570.64,468.56 1572.55,468.95 1573.59,469.43 1574.75,469.18 1575.44,471.21 1576.4,471.34 1577.95,471.77 1579.23,472.23 1580.53,473.42 1581.2,473.98 1582.62,473.98 1583.24,475.46" fill="none" stroke="#97b6e1" stroke-width="1.6" stroke-linejoin="round" stroke-linecap="round"/>
<polyline points="1586.11,436.26 1587.47,436.6 1588.42,438.6 1587.45,439.48 1588.19,440.23 1586.72,440.98 1587.14,442.28 1588.58,442.57 1589.39,444.16 1587.99,444.78 1587.19,445.92 1586.09,447.35 1586.95,448.23 1587.68,448.78 1588.13,449.26 1586.92,450.58 1587.43,452.06 1586.7,452.27 1588.41,453.17 1589.69,453.34 1590.56,453.12 1591.49,454.02 1593.15,452.85 1594.47,452.54" fill="none" stroke="#000" stroke-width="3.86" stroke-linejoin="round" stroke-linecap="round"/>
<polyline points="1584.7,434.14 1585.05,435.31 1584.7,436.71 1583.45,438.11 1584.06,439.44 1583.98,441.11 1584.06,442.25 1584.35,444.4 1583.85,445.25 1583.99,446.73 1583.51,447.88 1582.98,449.55 1583.9,451.29 1584.01,452.31 1582.68,453.6 1583.32,455.65 1583.14,456.65 1584.54,458.29 1584.91,459.96" fill="none" stroke="#000" stroke-width="2.76" stroke-linejoin="round" stroke-linecap="round"/>
<polyline points="1586.82,463.13 1588.62,463.6 1588.96,464.42 1590.08,465.05 1591.34,464.97 1592.73,464.37 1592.94,463.19 1594.1,463.32 1595.2,463.8 1596.76,463.14 1596.47,464.76 1595.79,465.82 1595.09,466.64 1594.82,467.77 1596.17,468.84 1596.81,469.84 1597.66,470.75 1596.91,472 1596.53,472.7 1595.56,473.62 1596.76,474.04 1597.25,474.79 1597.69,476.59 1598.92,476.99 1598.8,477.92 1598.07,479.5 1596.69,479.92 1598.1,480.75 1598.69,481.7 1600.01,482.37 1599.23,482.91 1598.06,484.8" fill="none" stroke="#000" stroke-width="4.23" stroke-linejoin="round" stroke-linecap="round"/>
<polyline points="1590.35,470.91 1590.35,472.45 1591.74,472.76 1591.92,474.19 1591.88,475.72 1592.97,476.85 1592.38,478.49 1592.97,480.24 1593.21,481.22 1594.3,482.57 1594.53,483.18" fill="none" stroke="#000" stroke-width="2.94" stroke-linejoin="round" stroke-linecap="round"/>
<polyline points="1591.77,480.71 1592.55,482.05 1593.56,481.57 1594.52,483.09 1594.87,481.61 1596.27,480.7 1597.59,480.32" fill="none" stroke="#000" stroke-width="3.31" stroke-linejoin="round" stroke-linecap="round"/>
<polyline points="1575.15,430.61 1575.8,431.43 1577.27,432.05 1578.88,432.66 1578.4,433.3 1576.48,433.68 1575.86,435.13 1577.24,436.55 1578.15,437.01 1579.73,437.54 1578.53,438.72 1577.2,438.79 1576.73,440.09 1577.3,441.9 1578.57,442.14 1578.87,443.65 1578.42,444.27 1578.47,445.97 1577.25,446.67 1577.78,447.61 1577.87,449.52 1578.76,450.11 1578.28,451.52 1577.18,452.38 1577.5,454.31 1578.57,454.93 1578.81,456.44 1578.96,457.7 1580.24,458.46 1580.24,459.9 1581.16,461.36" fill="none" stroke="#000" stroke-width="3.13" stroke-linejoin="round" stroke-linecap="round"/>
<polyline points="1579.04,428.48 1578.67,429.63 1577.52,429.94 1576.56,430.74" fill="none" stroke="#000" stroke-width="2.76" stroke-linejoin="round" stroke-linecap="round"/>
<polyline points="1585.4,422.83 1586.95,422.86 1587.47,423.55 1588.96,424.11 1589.5,423.52 1590.01,422.47 1592.16,422.27 1593.25,421.11 1594.8,422.49 1595.95,421.13" fill="none" stroke="#000" stroke-width="2.76" stroke-linejoin="round" stroke-linecap="round"/>
<polyline points="1583.28,423.64 1584.16,422.98 1585.3,422.52 1587.09,421.71 1588.45,421.11 1589.07,420.91 1589.98,420.05 1591.8,418.86 1593.06,419.67 1594.49,419.41 1595.13,421.07 1596.35,420.71 1594.91,421.68 1595.48,422.58 1594.46,423.39 1593.76,424.56 1592.62,425.42 1592.21,425.66" fill="none" stroke="#000" stroke-width="3.68" stroke-linejoin="round" stroke-linecap="round"/>
<polyline points="1597.42,488.48 1597.93,489.77 1598.12,491.17 1598.64,492.56 1599.69,493 1600.39,493.87 1599.78,494.91 1599.11,496.09 1598.77,498.11 1599.2,498.74 1598.1,499.81 1597.44,500.73 1596.31,502.43 1596.11,503.23 1596.46,504.88 1595.72,505.66 1595.43,506.86" fill="none" stroke="#000" stroke-width="4.6" stroke-linejoin="round" stroke-linecap="round"/>
<polyline points="1607.32,482.83 1606.2,484.05 1605.45,484.45 1605.54,486.37 1604.47,487.17 1604.17,488.28 1603.63,489.74 1601.92,490.87 1601.61,492.17 1601.09,492.99 1601.06,493.8 1600.81,495.6 1600.8,496.93 1599.27,497.6 1599.37,498.83 1599.21,500.7 1599.49,501.51 1598.03,502.54 1598.17,504.22 1597.17,505.06 1596.55,506.11 1595.8,507.01 1595.68,508.15" fill="none" stroke="#000" stroke-width="2.94" stroke-linejoin="round" stroke-linecap="round"/>
<polyline points="1616.52,451.82 1617.11,453.41 1619.07,453.97 1618.5,454.94 1617.33,455.86" fill="none" stroke="#000" stroke-width="3.31" stroke-linejoin="round" stroke-linecap="round"/>
<polyline points="1617.22,465.25 1616.8,466.43 1616.81,467.75 1616.6,468.9 1615.51,469.37 1615.3,470.57 1614.31,472.38 1613.51,473.29 1612.77,473.77 1611.42,475.14 1611.66,476.97 1611.19,477.49 1609.43,478.28 1609.22,479.2 1608.8,480.37" fill="none" stroke="#000" stroke-width="3.13" stroke-linejoin="round" stroke-linecap="round"/>
<polyline points="1638.43,425.66 1637.84,426.79 1636.95,428.07 1635.93,428.48 1634.28,428.73 1633.22,429.76 1632.18,430.73 1631.25,432.05 1631.75,433.8 1630.77,434.78 1629.68,435.74" fill="none" stroke="#000" stroke-width="2.76" stroke-linejoin="round" stroke-linecap="round"/>
<polyline points="1631.36,427.78 1631.69,428.94 1630.37,430.23" fill="none" stroke="#000" stroke-width="2.76" stroke-linejoin="round" stroke-linecap="round"/>
<polyline points="1649.04,402.42 1648.35,403.33 1648.12,404.85 1647.61,406.9 1647.9,408.64 1646.86,409.24 1647.3,410.93 1645.95,412.32 1647.13,413.39 1646.45,415.45" fill="none" stroke="#000" stroke-width="2.39" stroke-linejoin="round" stroke-linecap="round"/>
<polyline points="1593.18,531.41 1594.25,532.47 1594.65,533.89 1594.84,534.74 1595.07,536.5 1595.65,537.82 1595.44,538.45 1597,539.14 1597.57,540.91 1597.32,541.72 1599.19,543.18 1598.78,544.47 1599.6,545.4 1599.98,546.98" fill="none" stroke="#000" stroke-width="4" stroke-linejoin="round" stroke-linecap="round"/>
<polyline points="1591.77,529.49 1591.66,531.01 1593.37,531.42 1593.79,533.17 1593.36,533.89 1594.63,535.05 1594.65,536.63 1595.31,537.54 1596.6,538.59 1596.44,539.59 1597.21,541.64 1598.13,541.81 1597.93,543.51" fill="none" stroke="#000" stroke-width="3.6" stroke-linejoin="round" stroke-linecap="round"/>
<polyline points="1571.62,544.85 1572.81,545.65 1573.55,546.91 1574.65,545.77 1575.6,546.01 1576.41,544 1577.75,543.82 1578.34,542.85 1578.82,542.06 1580.05,543.12 1580.72,543.74 1582.15,543.41 1582.93,542.74 1583.4,541.8 1583.97,540.7 1584.34,539.36 1586.04,538.67 1586.72,538.54 1587.76,538.43 1588.54,539.04 1590.11,539.73 1590.51,539.37 1591.43,539.14 1592.01,538.44" fill="none" stroke="#000" stroke-width="3.36" stroke-linejoin="round" stroke-linecap="round"/>
<polyline points="1574.8,565.35 1576.09,565.15 1577.66,565.88 1577.62,567.01 1578.48,568.11 1579.82,568.13 1578.39,569.69 1577.87,570.78 1576.72,571.63 1578.12,572.38 1577.12,574.01 1578.35,574.79 1578.24,576.47 1576.75,576.96 1576.51,578.31 1575.27,579.72 1574.76,580 1573.51,581.32 1573.48,581.74 1572.29,583.15" fill="none" stroke="#000" stroke-width="3.36" stroke-linejoin="round" stroke-linecap="round"/>
<polyline points="1564.19,582.68 1565.06,582.27 1566.62,581.76 1568.12,582.8 1568.93,582.31 1570.53,582.21 1571.08,583.07 1572.06,583.54 1573.43,583.42 1574.29,582.45 1575.52,582.48 1576.65,582.5 1577.48,581.87 1579.22,581.52 1579.8,582.44 1581.99,582.47 1582.97,582.45 1584.45,582.39 1585.38,583.83 1587.04,584.08" fill="none" stroke="#000" stroke-width="3.2" stroke-linejoin="round" stroke-linecap="round"/>
<polyline points="1583.28,550.51 1584.76,550.95 1586.24,551.28 1587.13,550.83 1588.26,550.46 1589.69,549.57 1590.3,549" fill="none" stroke="#000" stroke-width="2.4" stroke-linejoin="round" stroke-linecap="round"/>
<polyline points="1594.6,550.51 1596.12,550.46 1596.26,549.79 1597.8,549.31 1598.4,549.67 1598.95,551.47 1599.07,552.55 1599.82,553.34 1599.92,554.27 1601.4,555.36 1601.57,556.93 1600.88,558" fill="none" stroke="#000" stroke-width="2.56" stroke-linejoin="round" stroke-linecap="round"/>
<polyline points="1581.87,570.3 1582.92,571.49 1584.62,570.56 1586.42,572 1587.03,570.99 1588.74,571.59" fill="none" stroke="#000" stroke-width="2.72" stroke-linejoin="round" stroke-linecap="round"/>
<g fill="#d2b48c" stroke="#000" stroke-width="1.5" stroke-linejoin="round">
<path d="M1648.59 381.36 L1648.73 380.28 L1647.97 379.66 L1648.84 378.87 L1649.27 377.42 L1649.94 376.56 L1650.06 375.34 L1650.91 374.18 L1651.24 373.13 L1652.5 372.44 L1653.62 372.43 L1653.96 371.28 L1655.01 370.67 L1655.83 370.12 L1657.2 369.76 L1658.4 369.05 L1659.28 368.68 L1660.54 368.22 L1661.6 368.71 L1662.93 367.98 L1663.9 367.81 L1665.42 368.18 L1666.58 367.94 L1667.65 368.46 L1669.03 368.22 L1670.08 367.58 L1671.19 367.52 L1672.11 367.89 L1673.63 367.32 L1674.32 366.89 L1676.09 366.49 L1677.32 366.24 L1678.51 366.26 L1679.5 366.36 L1680.67 366.62 L1682.27 366.08 L1683.47 366.38 L1684.21 366.6 L1685.72 365.62 L1686.53 365.92 L1687.69 365.59 L1688.66 365.26 L1690.08 364.44 L1691.19 364.62 L1691.83 363.7 L1692.87 363.02 L1694.08 362.28 L1695.27 361.72 L1696.12 361.49 L1697.3 360.72 L1698.56 360.78 L1699.66 359.57 L1700.9 359.77 L1701.54 358.84 L1702.63 358.46 L1704.03 358.05 L1704.71 358.68 L1704.99 359 L1703.91 359.76 L1702.98 360.52 L1701.7 361.28 L1700.61 361.5 L1699.99 362.44 L1698.58 363.14 L1697.85 363.75 L1696.86 364.31 L1697.27 365.02 L1698.77 364.78 L1699.56 364.65 L1700.37 364.31 L1701.31 363.79 L1702.95 363.99 L1703.56 363.58 L1704.84 363.44 L1706.14 363.25 L1707.52 362.87 L1708.42 362.32 L1709.44 363.17 L1710.74 362.76 L1711.56 362.28 L1712.52 362.59 L1712.15 363.38 L1711.02 363.79 L1710 363.91 L1708.77 364.32 L1707.72 365.08 L1706.38 365.26 L1705.34 365.64 L1704.31 366 L1703.47 366.71 L1701.85 366.54 L1700.89 367.43 L1699.74 367.53 L1698.52 368.77 L1697.32 368.91 L1695.86 369.06 L1695.1 369.32 L1693.69 370.38 L1692.72 370.33 L1691.75 371.51 L1690.54 372.05 L1688.99 371.84 L1688.18 372.58 L1686.53 373.23 L1685.54 373.35 L1684.27 374.12 L1683.31 374.17 L1682.05 374.77 L1681 375.37 L1679.8 375.94 L1678.78 376.34 L1677.33 376.99 L1676.37 377.46 L1674.9 377.15 L1673.83 377.93 L1672.53 377.75 L1671 378.54 L1670.14 379.09 L1668.73 378.71 L1667.95 379.34 L1666.58 379.53 L1665.39 379.47 L1664.08 380.07 L1662.98 379.84 L1661.77 380.56 L1660.74 380.44 L1659.27 380.34 L1658.24 381.17 L1657.42 381.34 L1656.03 381.08 L1654.86 381.51 L1653.5 381.3 L1652.59 382.42 L1651.43 382.08 L1650.61 381.48 L1649.31 381.57 Z" stroke-width="2.5"/>
<path d="M1737.37 349.49 L1738.41 348.99 L1739.32 348.71 L1739.78 348.18 L1740.97 347.78 L1742.07 347.58 L1742.53 346.71 L1743.83 346.46 L1744.56 346.43 L1745.61 347.3 L1746.69 347.07 L1747.52 347.98 L1748.98 348.01 L1749.83 348.87 L1750.86 349.74 L1750.99 350.48 L1752.14 351.3 L1752.88 352.42 L1751.56 352.58 L1750.41 352.57 L1749.09 352.07 L1748.02 352.45 L1747.08 353.03 L1745.66 352.4 L1744.87 352.52 L1743.98 353.12 L1742.73 353.26 L1741.63 353.63 L1740.62 353.83 L1740.3 353.06 L1739.69 352.09 L1738.71 351.8 L1738.13 350.57 Z" stroke-width="3.0"/>
<path d="M1755.4 352.68 L1756.43 353.33 L1757.23 354.02 L1757.85 354.9 L1759.23 355.17 L1760.39 355.51 L1761.43 355.72 L1762.39 356.21 L1763.54 356.67 L1764.82 356.71 L1765.85 356.38 L1766.43 355.76 L1767.02 355.01 L1766.45 354.28 L1766.48 353.24 L1765.97 352.38 L1765.05 352 L1764.57 350.71 L1763.83 350.31 L1764.22 351.61 L1763.96 352.48 L1764.39 353.8 L1763 354.36 L1762.02 354.35 L1760.78 354.4 L1759.68 353.98 L1758.54 353.22 L1757.34 352.98 L1756.14 352.58 Z" stroke-width="2.8"/>
<path d="M1875.35 245.5 L1875.35 249.08 L1875.52 250.41 L1875.83 251.45 L1876.06 252.5 L1874.3 253.41 L1874.36 254.13 L1874.36 255.28 L1874.48 257.93 L1874.7 258.46 L1876.64 258.56 L1876.54 260.15 L1876.27 261.21 L1878.51 262.15 L1878.73 262.9 L1879.64 262.95 L1879.88 261.95 L1881.25 262.58 L1881.82 262.01 L1882.12 259.57 L1883.2 259.12 L1883.34 259.67 L1884.58 260.19 L1885.27 261.54 L1885.81 262.61 L1885.57 262.88 L1885.29 264.19 L1886.03 266.07 L1886.29 266.64 L1888.11 266.74 L1888.63 267.82 L1889.08 268.65 L1888.83 269.72 L1888.9 270.79 L1891.23 271.77 L1891.32 273.02 L1892.36 272.51 L1891.28 270.84 L1893.49 271.12 L1893.77 269.19 L1894.45 267.95 L1895.63 267.68 L1896.76 268.24 L1897.76 267.56 L1897.44 267.06 L1898.22 265.24 L1899.22 264.52 L1898.41 263.06 L1899.85 262.74 L1900.25 261.96 L1899.73 260.73 L1899.63 260.35 L1900.3 259.35 L1901.6 259.38 L1902.39 260.35 L1903.64 259.53 L1905.42 259.43 L1905.74 259.42 L1906.09 257.36 L1907.64 258.53 L1908.14 256.42 L1909 256.92 L1910.13 256.42 L1910.7 256.49 L1912.19 255.9 L1912.3 254.5 L1913.21 252.85 L1914.32 253.26 L1914.34 251.84 L1915.19 250.94 L1916.73 249.54 L1918.37 250.5 L1918.11 249.06 L1918.13 245.5 Z" stroke-width="3.3"/>
<path d="M1642.32 381.21 L1643.49 380.3 L1644.21 379.44 L1644.75 378.25 L1646.03 378.16 L1646.6 377.03 L1647.45 376.99 L1646.92 378.01 L1646.96 378.86 L1646.74 380.33 L1645.81 381.09 L1645.15 382.21 L1644.79 383.28 L1643.44 383.85 L1642.68 384.57 L1643.02 383.51 L1642.9 382.54 Z" stroke-width="2.0"/>
</g>
<polyline points="1692.42,363.33 1693.67,362.21 1694.32,361.85 1695.73,361.65 1697.73,361.11 1699.05,361.14 1700.43,360.37 1701.74,360.41 1703.15,360.08 1703.37,359.04 1702.64,360.19 1702.37,361.34 1700.61,361.53 1700.43,363.38 1699.27,363.45 1697.47,363.25 1696.4,364.09 1695.53,364.76 1694.22,365.85 1693.38,365.88 1692.76,366.98 1693.7,367.56 1695.49,367.76 1696.15,366.36 1697.26,365.65 1697.99,365.57 1699.53,365.8 1701.08,364.4 1702.72,364.59 1703.72,363.97 1705.26,364.68 1706.34,364.07" fill="none" stroke="#000" stroke-width="3" stroke-linejoin="round" stroke-linecap="round"/>
<polyline points="1663.08,368.14 1663.82,368.88 1664.93,368.53 1667.03,368.28 1667.96,369.01 1668.68,368.27 1670.02,367.65 1671.57,368.67 1672.98,367.54" fill="none" stroke="#000" stroke-width="3" stroke-linejoin="round" stroke-linecap="round"/>
<polyline points="1737.37,348.79 1739.04,348.61 1739.43,346.66 1741.24,346.42 1742.08,345.68 1743.29,345.52 1744.58,344.48 1745.91,344.45 1746.87,342.81" fill="none" stroke="#000" stroke-width="2.2" stroke-linejoin="round" stroke-linecap="round"/>
<polyline points="1768.13,249.9 1770.06,248.66 1771.14,250.41 1772.87,249.75 1774.31,251 1774.8,250.6 1776.41,249.41 1778.93,250.41 1779.81,248.88 1780.4,250.07 1782.7,249.51 1783.39,250.2 1784.73,250.51 1786.23,249.87 1787.9,251.05 1789.24,250.03 1787.07,250.71 1785.72,250.21 1785.4,251.6 1782.83,251.62 1782.01,251.78 1780.51,253.12 1779.72,251.03 1778.34,251.37 1777.11,252.52 1775.29,252.5 1773.16,251.34 1773.25,253.09 1771.35,251.63 1770.63,253.89 1769.68,254.26 1770.56,253.88 1771.67,255.64 1774.32,253.85 1775.62,254.72 1776.99,255.19 1776.23,255.78 1774.19,255.47 1773.15,256.66 1772.32,256.48 1770.87,258.23 1770.41,257.67 1769.27,257.31 1768.4,256.85 1766.47,256.56 1764.67,257.51 1766.44,257.59 1768.08,258.42 1768.11,260.53 1766.32,260.63 1765.71,261.56 1763.19,260.38 1762.16,260.55 1761.17,260.75 1762.78,260.37 1761.54,259.12 1762.68,258.58 1763.53,256.58 1764.67,257.03 1766.38,256.45 1766.32,255.46 1766.89,257.45 1764.69,258.26 1763.71,258.76 1763.43,260.31 1762.63,261.92 1760.64,262.11 1760.87,263.76 1759.32,263.96 1757.83,265.21 1757.74,266.71" fill="none" stroke="#000" stroke-width="3.5" stroke-linejoin="round" stroke-linecap="round"/>
<polyline points="1725.35,335.35 1726.34,336.72 1727.84,336.9 1728.15,338.36 1728.25,338.96 1726.94,340.24 1727.03,340.85 1727.61,340.87 1728.9,342.42 1729.39,342.56 1728.66,342.62 1727.27,343.24 1726.81,345.35 1725.66,345.35 1726.61,344.99 1727.44,346.41 1728.59,346.51 1727.49,347.7 1725.87,347.34 1724.64,348.22 1725.25,346.36 1726.12,345.11 1727.7,344.74 1727.54,342.54 1728.25,341.53 1729.46,341.05 1730.85,339.49 1730.73,340.95 1731.12,342.51 1731.61,344.13" fill="none" stroke="#000" stroke-width="3.1" stroke-linejoin="round" stroke-linecap="round"/>
<polyline points="1758.02,324.89 1759.56,325.01 1760.67,324.55 1761.52,325.44 1762.95,325.94 1764.31,326.9 1764.61,327.99 1765.36,328.82 1765.86,329.94 1766.49,331.15 1766.56,332.5 1767.04,333.98 1767.22,335.23 1767.2,336.85 1766.61,338.22 1766.41,339.71 1766.38,341.07 1766.52,342.32 1766.01,343.97 1765,344.91" fill="none" stroke="#000" stroke-width="2.3" stroke-linejoin="round" stroke-linecap="round"/>
<polyline points="1743.74,300.71 1744.76,300.74 1746,301.16 1746.26,302.36 1746.65,303.2 1745.08,303.97 1744.31,304.06" fill="none" stroke="#000" stroke-width="3.4" stroke-linejoin="round" stroke-linecap="round"/>
<polyline points="1736.67,313.43 1737.69,313.52 1738.72,314.87 1739.09,316.23" fill="none" stroke="#000" stroke-width="4" stroke-linejoin="round" stroke-linecap="round"/>
<g fill="#000">
<circle cx="1719.7" cy="358.12" r="1.9"/>
<circle cx="1747.63" cy="289.35" r="1.2"/>
<circle cx="1790.4" cy="254.14" r="1.3"/>
<circle cx="1796.06" cy="255.2" r="1.3"/>
<circle cx="1800.3" cy="253.43" r="1.3"/>
<circle cx="1796.77" cy="258.03" r="1.3"/>
<circle cx="1793.94" cy="252.73" r="1.3"/>
<circle cx="1879.95" cy="269.23" r="1.25"/>
<circle cx="1879.24" cy="272.77" r="1.25"/>
</g>
<polyline points="1791.82,248.84 1791.13,249.23 1790.14,249.08 1789.06,249.51 1788.03,250.41 1786.97,250.77 1786.05,251.03 1784.38,251.11 1783.73,251.69 1782.02,251.6 1781.26,251.97 1780.21,252.4 1779.53,253.55 1779.57,254.92 1778.45,256.08 1777.95,257.01 1776.96,257.58 1776.01,258 1774.97,259.05 1773.39,258.88 1772.29,259.79 1771.21,260.05 1769.74,260.42 1768.76,260.96 1767.41,260.79 1766.6,260.64 1765.53,260.47 1764.09,261.27 1763.58,262.24 1762.66,263.13 1761.26,263.11 1760.38,263.62 1759.55,264.71 1758.99,265.62 1757.98,266.65 1757.84,267.67 1757.16,268.78 1755.65,269.03 1755.06,269.5 1754.67,271.02 1754.65,272.24 1753.87,273.08 1752.74,274.47 1751.89,274.93 1750.34,275.58 1749.53,276.21 1748.92,277.5 1748.26,278.64 1748.6,279.8 1747.98,281.25 1747.05,281.64 1747.34,283.16 1746.68,284.33 1745.89,285.1 1745.87,286.4 1744.91,287.13 1743.74,287.72 1743.7,288.85 1743.21,289.52 1742.35,290.88 1741.93,291.96 1742.04,292.99 1742.18,294.38 1742.06,295.24 1741.44,296.4 1741.63,297.45 1742.28,298.6 1742.14,299.98 1741.96,299.03 1742.62,299.15 1743.8,299.23 1744.68,299.87 1746.04,301 1746.81,301.14 1747.75,301.1 1748.6,301.99 1747.79,302.66 1747.57,304.57 1746.69,304.77 1745.74,305.31 1744.17,306.11 1743.08,306.2 1742.44,307.14 1741.49,308.19 1740.28,308.55 1739.67,309.16 1738.31,309.84 1737.65,310.44 1737,311.14 1736.76,312.12 1736.29,312.65 1735.75,313.74 1734.55,314.3 1734.52,315.3 1735.15,316.52 1735.73,316.99 1737.04,316.85 1738.21,317.05 1739.71,317.79 1740.42,318.09 1741.56,317.86 1742.42,317.48 1742.73,319.05 1743.49,319.74 1744.67,320.56 1745.42,321.47 1745.37,322.68 1746.77,323.52 1746.49,324.15 1747.42,324.91 1747.13,326.39 1746.28,327.33 1744.94,327.44 1746.03,328.56 1746.55,329.36 1747.34,330.72 1748.67,330.78 1749.6,331.18 1749.2,331.98 1750.12,332.8 1750.23,333.96 1750.98,334.41 1752,335.21 1752.25,335.99 1753.68,336.37 1754.96,336.36 1755.95,336.6 1756.88,336.74 1758.03,336.41 1759.27,335.44 1760.21,335.34 1761.48,335.44 1762.42,334.8 1763.71,334.62 1762.84,333.79 1762.81,332.97 1762.96,331.78 1762.64,330.47 1762.85,329.4 1762.17,328.27 1760.97,327.5 1759.97,326.88 1758.71,326.03 1757.75,325.24 1758.86,325.22 1759.5,323.87 1759.97,324.53 1761.2,323.82 1761.99,324.17 1763.48,324.9 1763.96,326.46 1765.16,326.83 1765.12,327.65 1765.55,329.09 1766.7,329.61 1766.76,330.37 1766.35,331.75 1767.46,332.42 1767.21,333.5 1767.55,334.52 1767.15,335.6 1767.36,337.09 1768,338.26 1767.36,339.61 1767.47,341.1 1766.3,341.88 1766.86,342.8 1766.17,344.07 1765.83,344.53 1764.83,345.47 1765.23,344.18 1764.27,342.69 1764.62,341.6 1764.2,340.98 1765.05,339.91 1764.78,338.6 1763.68,338.94 1762.7,339.77 1761.64,339.97 1760.81,339.61 1759.39,340.19 1758.91,340.81 1757.65,341.09 1756.73,341.8 1755.8,342.65 1754.55,342.93 1753.25,342.98 1752.39,343.75 1751.49,344.28 1750.47,344.74 1748.92,344.64 1748.04,345.39 1746.98,345.04 1745.85,345.8 1745.58,344.58 1745.26,343.62 1745.18,342.12 1745.54,341.22 1746.35,340.58 1746.49,339.66 1746.23,338.74 1746.57,337.45 1747.11,336.94 1746.12,337.27 1745.28,336.33 1744.59,336.87 1743.95,337.84 1743.38,338.88 1742.24,339.89 1741.1,339.57 1740.32,340.94 1739.61,341.05 1739.26,342.09 1738.1,342.45 1737.63,343.39 1736.94,343.91 1736.07,344.9 1735.34,345.52 1734.02,345.94 1732.8,345.5 1731.67,345.11 1732.15,343.93 1731.86,343.08 1732.69,342.14 1732.56,340.68 1732.23,339.37 1731.99,338.51 1731.08,337.85 1729.99,337.77 1729.46,336.63 1728.79,335.65 1727.71,335.13 1726.99,334.4 1726.2,334.22 1725.76,335.08 1724.91,336.27 1723.87,336.81 1723.63,337.99 1723.71,338.74 1723.14,340.26 1723.37,341.31 1723.19,342.15 1723.1,343.38 1724.07,344.32 1723.46,345.48 1723.87,346.97 1724.61,347.67 1725.42,348.88 1724.16,349.28 1723.57,349.91 1722.75,350.96 1721.44,350.88 1720.53,351.32 1719.4,352.23 1717.84,351.87 1716.97,352.21 1715.71,352.53 1714.74,352.79 1713.47,352.81 1711.87,352.64 1711.17,353.89 1709.61,353.11 1708.96,353.64 1707.43,353.91 1706.58,354.29 1705.52,354.57 1704.47,353.77 1703.16,354.17 1701.92,354.31 1700.83,355.31 1700.18,355.11 1698.7,355.88 1697.48,355.48 1696.22,355.99 1694.63,355.96 1693.42,356.11 1692.63,355.36 1691.1,355.1 1690.14,355.33 1688.97,355.57 1687.85,354.7 1686.81,355.27 1685.87,355.36 1684.25,355.37 1683.08,355 1682.34,354.95 1681.3,354.51 1679.86,355.18 1678.64,355.02 1677.64,355.77 1676.76,356.08 1675.9,356.34 1674.54,356.84 1673.29,357.28 1672.69,358.1 1671.35,358.11 1670.13,358.85 1668.81,359.6 1667.6,359.21 1666.54,360.05 1665.35,360.65 1664.39,361.28 1663.11,362.2 1662.31,362.26 1660.67,362.63 1660.4,363.42 1659.48,364.05 1658.98,363.79 1658.75,364.69 1657.71,366.01 1657.1,366.81 1656.85,368.16 1656.14,368.95 1655.58,369.98 1654.06,369.9 1653.37,371.29 1652.59,371.78 1651.92,372.86 1650.79,373.51 1649.26,373.83 1648.77,374.32 1648.1,376.08 1646.82,376.1 1646.32,376.81 1645.44,378.24 1644.36,378.72 1643.75,379.18 1643.66,380.47 1642.77,381.56 1641.79,382.31 1641.56,383.47 1641.26,384.43 1642.69,384.91 1643.55,385.97 1643.96,386.84 1645.26,386.75 1646.52,387.77 1647.44,387.68 1648.39,387.21 1648.83,386.54 1649.58,386.05 1650.29,386.69 1649.89,388.01 1650.26,388.86 1651.09,389.52 1650.27,390.86 1650.93,391.71 1650.45,393.19 1650.4,394.09 1649.98,395.59 1650.02,396.36 1649.31,397.65 1648.49,398.49 1647.74,399.87 1647.7,400.85 1646.76,401.98 1646.6,403.22 1646.84,404.96 1646.23,406.25 1646.37,407.01 1646.89,408.34 1646.58,409.97 1647.08,410.82 1646.7,412.3 1646.57,412.81 1646.16,414.03 1644.69,414.89 1644.58,416.09 1643.76,416.3 1643.51,418 1642.63,418 1641.86,419.07 1641.37,420.06 1640.84,420.82 1639.71,421.34 1638.52,421.11 1637.77,421.94 1638.7,422.9 1638.85,423.82 1639.99,424.07 1638.96,425.35 1638.52,426.09 1637.24,426.18 1636.49,427.75 1635.69,427.94 1635.24,429.16 1633.87,429.77 1633.1,431.19 1633.01,432.16 1631.58,432.89 1631.38,434.31 1630.91,435.21 1630.36,436.72 1628.78,437.11 1628.52,438.02 1628.09,439.45 1626.53,440.02 1626.62,441 1625.74,441.94 1624.83,441.61 1623.6,442.08 1622.68,442.52 1622.9,441.77 1622.44,440.85 1622.7,440.03 1622.91,438.43 1623.37,437.75 1623.92,436.31 1625.07,435.27 1624.41,434.32 1623.56,434.52 1622.74,433.57 1621.81,433.04 1620.63,433.47 1619.4,432.85 1618.18,432.55 1617.46,432.68 1616.71,431.64 1615.57,430.96 1614.9,430 1613.71,429.38 1612.29,428.87 1611.85,428.03 1610.4,427.45 1609.87,427 1608.73,426.19 1608.54,425.26 1607,424.47 1606.49,423.25 1605.48,423.07 1605.02,422.05 1605.56,420.74 1605.63,419.61 1605.31,418.39 1604.49,417.13 1605.62,416.91 1606.19,415.52 1606.44,414.47 1607.21,413.77 1608.09,412.69 1609.06,412.4 1609.37,411.01 1610.58,410.75 1609.6,410.46 1608.37,410.97 1608.4,412.22 1607.13,413 1606.38,413.52 1605.79,414.97 1605.01,415.47 1604.15,416.74 1603.48,417.36 1603.78,418.42 1603.42,420.08 1604.04,420.76 1603.86,421.69 1604.95,422.8 1604.56,423.72 1605.36,424.5 1605.68,425.05 1606.89,425.76 1607.05,427.23 1607.88,427.72 1608.18,428.79 1608.75,429.64 1608.8,431.21 1609.54,431.87 1609.19,433.46 1609.87,433.88 1609.62,435.61 1610.29,436 1610.08,437.38 1610.69,438.5 1610.95,439.43 1611.54,440.51 1612.65,441.7 1612.75,442.53 1614.06,443.23 1614.69,444.36 1615.85,444.85 1616.61,446.4 1617.74,446.16 1618.01,447.26 1619.06,447.62 1619.47,448.81 1619.64,449.85 1620.1,451.15 1619.98,452.35 1619.83,453.35 1620.18,454.65 1619.51,455.48 1619.19,456.92 1619.51,457.7 1619.63,458.79 1620.2,460.06 1620.39,461.19 1620.01,462.15 1619.56,463.26 1618.88,464.74 1618.86,465.56 1618.38,466.88 1617.8,467.8 1616.7,469.15 1616.18,470.2 1615.95,471.7 1614.95,472.55 1614.1,472.86 1613.26,474.31 1613.46,475.52 1612.14,475.93 1611.49,477.05 1610.67,477.94 1610.01,479.6 1609.82,480.53 1608.8,481.43 1608.75,482.55 1607.81,483.74 1606.73,484.27 1606.72,485.44 1606.06,486.08 1606.69,485.27 1607.48,484.33 1606.57,485.53 1606.48,486.98 1605.51,487.51 1604.8,488.48 1604.26,489.84 1604.11,491.17 1603.69,491.87 1602.92,492.71 1602.32,493.85 1601.87,495.4 1601.59,496.33 1601.52,497.24 1601.32,498.63 1600.14,499.71 1599.68,501.19 1599.78,502.16 1598.88,503.04 1598.84,504.54 1598.16,505.47 1597.4,506.51 1596.57,507.08 1595.97,508.24 1595.27,509.49 1594.72,509.79 1593.6,510.6" fill="none" stroke="#000" stroke-width="2.45" stroke-linejoin="round"/>
<polyline points="1593.18,514.65 1593.34,516.03 1593.93,517.04 1594.54,518.32 1594.57,519.56 1595.04,521.03 1595.44,522.58 1596.37,523.9 1596.83,525.22 1597.04,526.58 1597.56,528.11 1597.86,529.45 1597.57,530.85 1598.21,532.34 1598.49,533.66 1598.63,534.87 1599.28,536.12 1599.84,537.55 1599.75,538.91 1600.39,540.17 1600.68,541.33 1601.25,542.5 1602.04,543.44 1602.6,544.6 1603.15,546.02 1603.6,547.46 1604.12,548.65 1604.81,550 1605.28,551.43 1606.18,552.68 1606.48,554.01 1606.78,555.25 1607.58,556.46 1607.8,558.03 1608.16,559.13 1608.64,560.38 1608.93,562.11 1608.73,563.64 1608.75,565.32 1608.89,566.87 1608.5,568.27 1608.41,569.67 1608.11,570.94 1607.95,572.47 1607.88,573.77 1607.65,574.68 1607.25,576.1 1605.91,575.88 1604.54,575.88 1603.05,575.34 1601.55,575.99 1600.34,576.98 1598.78,577.52 1597.28,578.06 1596.03,579.07 1594.36,579.33 1593.37,580.37 1591.94,580.93 1590.38,581.88 1589.28,583.04 1588.26,584.02" fill="none" stroke="#000" stroke-width="1.8" stroke-linejoin="round"/>
<circle cx="1673.4" cy="507.7" r="4.25" fill="#ff0000" stroke="#000" stroke-width="1.41"/>
<circle cx="1672.8" cy="505.6" r="4.25" fill="#ff0000" stroke="#000" stroke-width="1.41"/>
</g>
<g stroke="#000" stroke-width="1.45" fill="none" stroke-linecap="square">
<polyline points="1791.82,249.5 1875.35,249.5"/>
<polyline points="1918.13,249.5 1966.5,249.5 1966.5,584.5 1588.23,584.5"/>
</g>
<line x1="1563.5" y1="249.2" x2="1791.82" y2="249.2" stroke="#c9c9c9" stroke-width="0.8"/>
<line x1="1563.3" y1="249.5" x2="1563.3" y2="584.5" stroke="#c9c9c9" stroke-width="0.8"/>
<g stroke="#000" fill="none">
<line x1="1564.84" y1="584.5" x2="1564.84" y2="587.2" stroke-width="1.5"/>
<line x1="1564.84" y1="249.5" x2="1564.84" y2="246.8" stroke-width="1.5"/>
<line x1="1579.17" y1="584.5" x2="1579.17" y2="587.2" stroke-width="1.5"/>
<line x1="1579.17" y1="249.5" x2="1579.17" y2="246.8" stroke-width="1.5"/>
<line x1="1593.5" y1="584.5" x2="1593.5" y2="593.1" stroke-width="2.95"/>
<line x1="1593.5" y1="249.5" x2="1593.5" y2="240.9" stroke-width="2.95"/>
<line x1="1607.83" y1="584.5" x2="1607.83" y2="587.2" stroke-width="1.5"/>
<line x1="1607.83" y1="249.5" x2="1607.83" y2="246.8" stroke-width="1.5"/>
<line x1="1622.16" y1="584.5" x2="1622.16" y2="587.2" stroke-width="1.5"/>
<line x1="1622.16" y1="249.5" x2="1622.16" y2="246.8" stroke-width="1.5"/>
<line x1="1636.49" y1="584.5" x2="1636.49" y2="587.2" stroke-width="1.5"/>
<line x1="1636.49" y1="249.5" x2="1636.49" y2="246.8" stroke-width="1.5"/>
<line x1="1650.82" y1="584.5" x2="1650.82" y2="593.1" stroke-width="2.95"/>
<line x1="1650.82" y1="249.5" x2="1650.82" y2="240.9" stroke-width="2.95"/>
<line x1="1665.15" y1="584.5" x2="1665.15" y2="587.2" stroke-width="1.5"/>
<line x1="1665.15" y1="249.5" x2="1665.15" y2="246.8" stroke-width="1.5"/>
<line x1="1679.48" y1="584.5" x2="1679.48" y2="587.2" stroke-width="1.5"/>
<line x1="1679.48" y1="249.5" x2="1679.48" y2="246.8" stroke-width="1.5"/>
<line x1="1693.81" y1="584.5" x2="1693.81" y2="587.2" stroke-width="1.5"/>
<line x1="1693.81" y1="249.5" x2="1693.81" y2="246.8" stroke-width="1.5"/>
<line x1="1708.14" y1="584.5" x2="1708.14" y2="593.1" stroke-width="2.95"/>
<line x1="1708.14" y1="249.5" x2="1708.14" y2="240.9" stroke-width="2.95"/>
<line x1="1722.47" y1="584.5" x2="1722.47" y2="587.2" stroke-width="1.5"/>
<line x1="1722.47" y1="249.5" x2="1722.47" y2="246.8" stroke-width="1.5"/>
<line x1="1736.8" y1="584.5" x2="1736.8" y2="587.2" stroke-width="1.5"/>
<line x1="1736.8" y1="249.5" x2="1736.8" y2="246.8" stroke-width="1.5"/>
<line x1="1751.13" y1="584.5" x2="1751.13" y2="587.2" stroke-width="1.5"/>
<line x1="1751.13" y1="249.5" x2="1751.13" y2="246.8" stroke-width="1.5"/>
<line x1="1765.46" y1="584.5" x2="1765.46" y2="593.1" stroke-width="2.95"/>
<line x1="1765.46" y1="249.5" x2="1765.46" y2="240.9" stroke-width="2.95"/>
<line x1="1779.79" y1="584.5" x2="1779.79" y2="587.2" stroke-width="1.5"/>
<line x1="1779.79" y1="249.5" x2="1779.79" y2="246.8" stroke-width="1.5"/>
<line x1="1794.12" y1="584.5" x2="1794.12" y2="587.2" stroke-width="1.5"/>
<line x1="1794.12" y1="249.5" x2="1794.12" y2="246.8" stroke-width="1.5"/>
<line x1="1808.45" y1="584.5" x2="1808.45" y2="587.2" stroke-width="1.5"/>
<line x1="1808.45" y1="249.5" x2="1808.45" y2="246.8" stroke-width="1.5"/>
<line x1="1822.78" y1="584.5" x2="1822.78" y2="593.1" stroke-width="2.95"/>
<line x1="1822.78" y1="249.5" x2="1822.78" y2="240.9" stroke-width="2.95"/>
<line x1="1837.11" y1="584.5" x2="1837.11" y2="587.2" stroke-width="1.5"/>
<line x1="1837.11" y1="249.5" x2="1837.11" y2="246.8" stroke-width="1.5"/>
<line x1="1851.44" y1="584.5" x2="1851.44" y2="587.2" stroke-width="1.5"/>
<line x1="1851.44" y1="249.5" x2="1851.44" y2="246.8" stroke-width="1.5"/>
<line x1="1865.77" y1="584.5" x2="1865.77" y2="587.2" stroke-width="1.5"/>
<line x1="1865.77" y1="249.5" x2="1865.77" y2="246.8" stroke-width="1.5"/>
<line x1="1880.1" y1="584.5" x2="1880.1" y2="593.1" stroke-width="2.95"/>
<line x1="1880.1" y1="249.5" x2="1880.1" y2="240.9" stroke-width="2.95"/>
<line x1="1894.43" y1="584.5" x2="1894.43" y2="587.2" stroke-width="1.5"/>
<line x1="1894.43" y1="249.5" x2="1894.43" y2="246.8" stroke-width="1.5"/>
<line x1="1908.76" y1="584.5" x2="1908.76" y2="587.2" stroke-width="1.5"/>
<line x1="1908.76" y1="249.5" x2="1908.76" y2="246.8" stroke-width="1.5"/>
<line x1="1923.09" y1="584.5" x2="1923.09" y2="587.2" stroke-width="1.5"/>
<line x1="1923.09" y1="249.5" x2="1923.09" y2="246.8" stroke-width="1.5"/>
<line x1="1937.42" y1="584.5" x2="1937.42" y2="593.1" stroke-width="2.95"/>
<line x1="1937.42" y1="249.5" x2="1937.42" y2="240.9" stroke-width="2.95"/>
<line x1="1951.75" y1="584.5" x2="1951.75" y2="587.2" stroke-width="1.5"/>
<line x1="1951.75" y1="249.5" x2="1951.75" y2="246.8" stroke-width="1.5"/>
<line x1="1966.08" y1="584.5" x2="1966.08" y2="587.2" stroke-width="1.5"/>
<line x1="1966.08" y1="249.5" x2="1966.08" y2="246.8" stroke-width="1.5"/>
<line x1="1563.5" y1="583.35" x2="1560.8" y2="583.35" stroke-width="1.5"/>
<line x1="1966.5" y1="583.35" x2="1969.2" y2="583.35" stroke-width="1.5"/>
<line x1="1563.5" y1="565.87" x2="1560.8" y2="565.87" stroke-width="1.5"/>
<line x1="1966.5" y1="565.87" x2="1969.2" y2="565.87" stroke-width="1.5"/>
<line x1="1563.5" y1="548.28" x2="1554.9" y2="548.28" stroke-width="2.95"/>
<line x1="1966.5" y1="548.28" x2="1975.1" y2="548.28" stroke-width="2.95"/>
<line x1="1563.5" y1="530.57" x2="1560.8" y2="530.57" stroke-width="1.5"/>
<line x1="1966.5" y1="530.57" x2="1969.2" y2="530.57" stroke-width="1.5"/>
<line x1="1563.5" y1="512.76" x2="1560.8" y2="512.76" stroke-width="1.5"/>
<line x1="1966.5" y1="512.76" x2="1969.2" y2="512.76" stroke-width="1.5"/>
<line x1="1563.5" y1="494.82" x2="1560.8" y2="494.82" stroke-width="1.5"/>
<line x1="1966.5" y1="494.82" x2="1969.2" y2="494.82" stroke-width="1.5"/>
<line x1="1563.5" y1="476.76" x2="1554.9" y2="476.76" stroke-width="2.95"/>
<line x1="1966.5" y1="476.76" x2="1975.1" y2="476.76" stroke-width="2.95"/>
<line x1="1563.5" y1="458.58" x2="1560.8" y2="458.58" stroke-width="1.5"/>
<line x1="1966.5" y1="458.58" x2="1969.2" y2="458.58" stroke-width="1.5"/>
<line x1="1563.5" y1="440.28" x2="1560.8" y2="440.28" stroke-width="1.5"/>
<line x1="1966.5" y1="440.28" x2="1969.2" y2="440.28" stroke-width="1.5"/>
<line x1="1563.5" y1="421.84" x2="1560.8" y2="421.84" stroke-width="1.5"/>
<line x1="1966.5" y1="421.84" x2="1969.2" y2="421.84" stroke-width="1.5"/>
<line x1="1563.5" y1="403.27" x2="1554.9" y2="403.27" stroke-width="2.95"/>
<line x1="1966.5" y1="403.27" x2="1975.1" y2="403.27" stroke-width="2.95"/>
<line x1="1563.5" y1="384.57" x2="1560.8" y2="384.57" stroke-width="1.5"/>
<line x1="1966.5" y1="384.57" x2="1969.2" y2="384.57" stroke-width="1.5"/>
<line x1="1563.5" y1="365.72" x2="1560.8" y2="365.72" stroke-width="1.5"/>
<line x1="1966.5" y1="365.72" x2="1969.2" y2="365.72" stroke-width="1.5"/>
<line x1="1563.5" y1="346.73" x2="1560.8" y2="346.73" stroke-width="1.5"/>
<line x1="1966.5" y1="346.73" x2="1969.2" y2="346.73" stroke-width="1.5"/>
<line x1="1563.5" y1="327.6" x2="1554.9" y2="327.6" stroke-width="2.95"/>
<line x1="1966.5" y1="327.6" x2="1975.1" y2="327.6" stroke-width="2.95"/>
<line x1="1563.5" y1="308.31" x2="1560.8" y2="308.31" stroke-width="1.5"/>
<line x1="1966.5" y1="308.31" x2="1969.2" y2="308.31" stroke-width="1.5"/>
<line x1="1563.5" y1="288.87" x2="1560.8" y2="288.87" stroke-width="1.5"/>
<line x1="1966.5" y1="288.87" x2="1969.2" y2="288.87" stroke-width="1.5"/>
<line x1="1563.5" y1="269.26" x2="1560.8" y2="269.26" stroke-width="1.5"/>
<line x1="1966.5" y1="269.26" x2="1969.2" y2="269.26" stroke-width="1.5"/>
<line x1="1563.5" y1="249.5" x2="1554.9" y2="249.5" stroke-width="2.95"/>
<line x1="1966.5" y1="249.5" x2="1975.1" y2="249.5" stroke-width="2.95"/>
</g>
<g font-size="22.6" fill="#000">
<text x="1548.6" y="259.4" text-anchor="end" textLength="55.4" lengthAdjust="spacingAndGlyphs">44°N</text>
<text x="1548.6" y="337.5" text-anchor="end" textLength="55.4" lengthAdjust="spacingAndGlyphs">42°N</text>
<text x="1548.6" y="413.17" text-anchor="end" textLength="55.4" lengthAdjust="spacingAndGlyphs">40°N</text>
<text x="1548.6" y="486.66" text-anchor="end" textLength="55.4" lengthAdjust="spacingAndGlyphs">38°N</text>
<text x="1548.6" y="558.18" text-anchor="end" textLength="55.4" lengthAdjust="spacingAndGlyphs">36°N</text>
<text transform="translate(1590.5 628.3) rotate(-45)" text-anchor="middle" y="8.2">76°W</text>
<text transform="translate(1647.82 628.3) rotate(-45)" text-anchor="middle" y="8.2">74°W</text>
<text transform="translate(1705.14 628.3) rotate(-45)" text-anchor="middle" y="8.2">72°W</text>
<text transform="translate(1762.46 628.3) rotate(-45)" text-anchor="middle" y="8.2">70°W</text>
<text transform="translate(1819.78 628.3) rotate(-45)" text-anchor="middle" y="8.2">68°W</text>
<text transform="translate(1877.1 628.3) rotate(-45)" text-anchor="middle" y="8.2">66°W</text>
<text transform="translate(1934.42 628.3) rotate(-45)" text-anchor="middle" y="8.2">64°W</text>
</g>
</g>
<g id="legend">
<rect x="1635" y="658" width="260.6" height="142.9" rx="4.6" ry="4.6" fill="#fff" stroke="#d2d2d2" stroke-width="1.7"/>
<g font-size="22.6" fill="#000">
<line x1="1643.2" y1="677.3" x2="1690.9" y2="677.3" stroke="#0000ff" stroke-width="2.83"/>
<circle cx="1666.5" cy="677.3" r="6" fill="#0000ff"/>
<text x="1706.4" y="685.5">sp071</text>
<line x1="1643.2" y1="711.6" x2="1690.9" y2="711.6" stroke="#ff0000" stroke-width="2.83"/>
<circle cx="1666.5" cy="711.6" r="6" fill="#ff0000"/>
<text x="1706.4" y="719.8">RTOFS</text>
<line x1="1643.2" y1="745.9" x2="1690.9" y2="745.9" stroke="#ffa500" stroke-width="2.83"/>
<circle cx="1666.5" cy="745.9" r="6" fill="#ffa500"/>
<text x="1706.4" y="754.1">RTOFS (Parallel)</text>
<line x1="1643.2" y1="780.2" x2="1690.9" y2="780.2" stroke="#ff00ff" stroke-width="2.83"/>
<circle cx="1666.5" cy="780.2" r="6" fill="#ff00ff"/>
<text x="1706.4" y="788.4">CMEMS</text>
</g></g>
</svg></body></html>
